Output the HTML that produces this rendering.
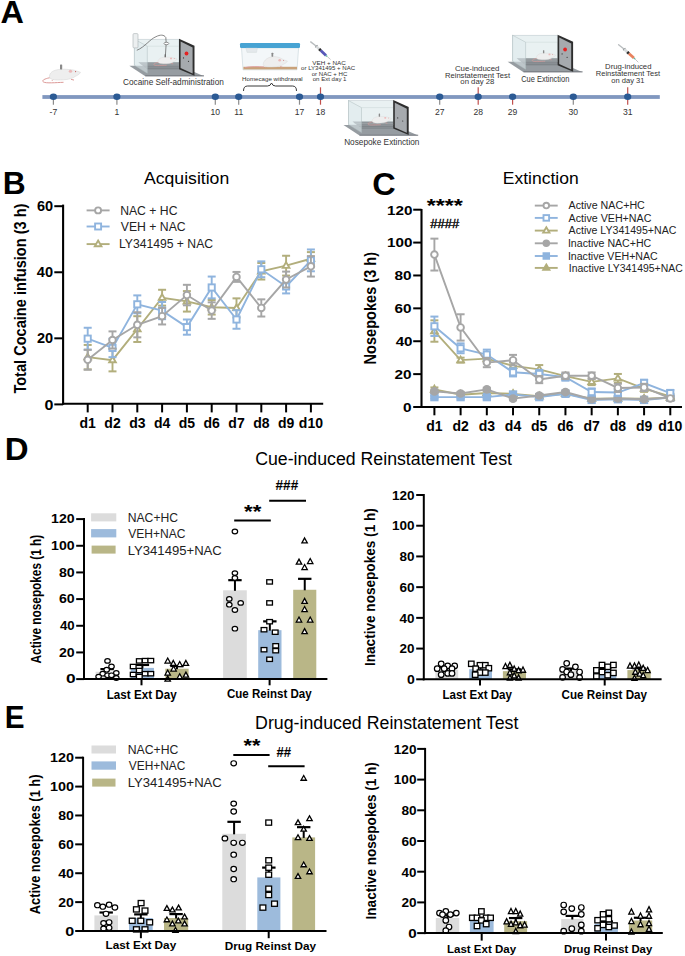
<!DOCTYPE html>
<html><head><meta charset="utf-8"><style>
html,body{margin:0;padding:0;background:#fff;}
svg{display:block;}
text{font-family:'Liberation Sans', sans-serif;}
</style></head><body>
<svg width="685" height="956" viewBox="0 0 685 956">
<rect width="685" height="956" fill="#fff"/>
<text x="12.15" y="22.80" font-size="31" text-anchor="middle" font-weight="bold" textLength="23.40" lengthAdjust="spacingAndGlyphs">A</text>
<text x="14.15" y="194.40" font-size="31" text-anchor="middle" font-weight="bold" textLength="22.91" lengthAdjust="spacingAndGlyphs">B</text>
<text x="383.90" y="194.60" font-size="31" text-anchor="middle" font-weight="bold" textLength="23.45" lengthAdjust="spacingAndGlyphs">C</text>
<text x="16.60" y="459.80" font-size="31" text-anchor="middle" font-weight="bold" textLength="23.83" lengthAdjust="spacingAndGlyphs">D</text>
<text x="14.65" y="728.40" font-size="31" text-anchor="middle" font-weight="bold" textLength="19.79" lengthAdjust="spacingAndGlyphs">E</text>
<rect x="42.4" y="95.1" width="617.4" height="3.8" fill="#8097bf"/>
<line x1="53.40" y1="97.00" x2="53.40" y2="104.70" stroke="#8c8c8c" stroke-width="1.2"/>
<ellipse cx="53.4" cy="96.8" rx="3.6" ry="3.2" fill="#2b5a94"/>
<text x="53.40" y="114.60" font-size="8.6" text-anchor="middle" fill="#333">-7</text>
<line x1="116.90" y1="97.00" x2="116.90" y2="104.70" stroke="#8c8c8c" stroke-width="1.2"/>
<ellipse cx="116.9" cy="96.8" rx="3.6" ry="3.2" fill="#2b5a94"/>
<text x="116.90" y="114.60" font-size="8.6" text-anchor="middle" fill="#333">1</text>
<line x1="215.30" y1="97.00" x2="215.30" y2="104.70" stroke="#8c8c8c" stroke-width="1.2"/>
<ellipse cx="215.3" cy="96.8" rx="3.6" ry="3.2" fill="#2b5a94"/>
<text x="215.30" y="114.60" font-size="8.6" text-anchor="middle" fill="#333">10</text>
<line x1="238.70" y1="97.00" x2="238.70" y2="104.70" stroke="#8c8c8c" stroke-width="1.2"/>
<ellipse cx="238.7" cy="96.8" rx="3.6" ry="3.2" fill="#2b5a94"/>
<text x="238.70" y="114.60" font-size="8.6" text-anchor="middle" fill="#333">11</text>
<line x1="299.50" y1="97.00" x2="299.50" y2="104.70" stroke="#8c8c8c" stroke-width="1.2"/>
<ellipse cx="299.5" cy="96.8" rx="3.6" ry="3.2" fill="#2b5a94"/>
<text x="299.50" y="114.60" font-size="8.6" text-anchor="middle" fill="#333">17</text>
<line x1="320.50" y1="87.30" x2="320.50" y2="104.70" stroke="#c0504d" stroke-width="1.2"/>
<ellipse cx="320.5" cy="96.8" rx="3.6" ry="3.2" fill="#2b5a94"/>
<text x="320.50" y="114.60" font-size="8.6" text-anchor="middle" fill="#333">18</text>
<line x1="439.70" y1="97.00" x2="439.70" y2="104.70" stroke="#8c8c8c" stroke-width="1.2"/>
<ellipse cx="439.7" cy="96.8" rx="3.6" ry="3.2" fill="#2b5a94"/>
<text x="439.70" y="114.60" font-size="8.6" text-anchor="middle" fill="#333">27</text>
<line x1="478.20" y1="87.30" x2="478.20" y2="104.70" stroke="#c0504d" stroke-width="1.2"/>
<ellipse cx="478.2" cy="96.8" rx="3.6" ry="3.2" fill="#2b5a94"/>
<text x="478.20" y="114.60" font-size="8.6" text-anchor="middle" fill="#333">28</text>
<line x1="512.60" y1="97.00" x2="512.60" y2="104.70" stroke="#c0504d" stroke-width="1.2"/>
<ellipse cx="512.6" cy="96.8" rx="3.6" ry="3.2" fill="#2b5a94"/>
<text x="512.60" y="114.60" font-size="8.6" text-anchor="middle" fill="#333">29</text>
<line x1="573.30" y1="97.00" x2="573.30" y2="104.70" stroke="#8c8c8c" stroke-width="1.2"/>
<ellipse cx="573.3" cy="96.8" rx="3.6" ry="3.2" fill="#2b5a94"/>
<text x="573.30" y="114.60" font-size="8.6" text-anchor="middle" fill="#333">30</text>
<line x1="627.70" y1="87.30" x2="627.70" y2="104.70" stroke="#c0504d" stroke-width="1.2"/>
<ellipse cx="627.7" cy="96.8" rx="3.6" ry="3.2" fill="#2b5a94"/>
<text x="627.70" y="114.60" font-size="8.6" text-anchor="middle" fill="#333">31</text>
<polygon points="129.3,65.7 180.0,65.7 204.0,76.2 145.3,76.2" fill="#969ca1"/>
<line x1="145.3" y1="75.8" x2="204.0" y2="75.8" stroke="#6f757a" stroke-width="0.9"/>
<rect x="134.3" y="39.2" width="44.7" height="26" fill="#e9f1f2" stroke="#b9c6c9" stroke-width="0.5"/>
<polygon points="138.3,62.2 179.0,62.2 179.0,69.2 147.3,69.2" fill="#6f767b" opacity="0.75"/>
<path d="M140.3,64.0 H179.0 M143.3,66.0 H179.0 M145.3,67.8 H179.0" stroke="#a9afb3" stroke-width="0.5"/>
<path d="M158.92,62.27 C155.20,62.89 152.72,64.13 154.27,65.06 C155.82,65.99 162.02,65.43 166.67,65.25" fill="none" stroke="#dd9a98" stroke-width="0.62"/>
<path d="M160.16,63.57 l-0.62,0.74 M171.32,63.39 l1.86,0.50" stroke="#dd9a98" stroke-width="0.62" fill="none"/>
<path d="M157.99,61.34 C158.30,58.24 162.02,57.12 166.98,57.12 C170.70,57.25 173.18,57.62 174.42,58.12 L177.21,59.05 C176.59,60.41 175.04,61.03 173.80,61.65 C171.94,63.20 168.22,63.82 163.26,63.82 C159.54,63.82 157.68,62.89 157.99,61.34 Z" fill="#eeeeee" stroke="#d3d3d3" stroke-width="0.31"/>
<ellipse cx="171.01" cy="58.43" rx="1.05" ry="0.93" fill="#ebb9b9"/>
<circle cx="174.17" cy="58.61" r="0.34" fill="#c04848"/>
<rect x="164.50" y="54.15" width="1.36" height="3.10" rx="0.37" fill="#8a8a8a"/>
<polygon points="134.3,39.2 147.3,46.2 147.3,73.2 134.3,65.2" fill="#dfeaec" fill-opacity="0.55" stroke="#aebcbf" stroke-width="0.5"/>
<line x1="147.3" y1="46.2" x2="179.0" y2="46.2" stroke="#c9d5d7" stroke-width="0.5"/>
<polygon points="179.0,38.7 194.5,45.7 194.5,75.7 179.0,69.2" fill="#2e2e2e"/>
<polygon points="180.6,41.400000000000006 192.6,47.400000000000006 192.6,73.4 180.6,68.0" fill="#a6aaae"/>
<circle cx="186.5" cy="53.5" r="1.9" fill="#e32222"/>
<circle cx="183.5" cy="57.92" r="0.6" fill="#333"/><circle cx="188.5" cy="61.3" r="0.6" fill="#333"/>
<rect x="133" y="33.6" width="5" height="14.3" rx="1" fill="#eceff0" stroke="#a9b0b3" stroke-width="0.6"/>
<path d="M136.8,50.3 C145,47 150,39 156,36.7 C160,34.6 164,34.4 165.8,37.5 L166.2,43 L165.3,57.2" fill="none" stroke="#555" stroke-width="0.7"/>
<ellipse cx="166.4" cy="43.5" rx="2.4" ry="1.2" fill="#fff" stroke="#555" stroke-width="0.6"/>
<text x="173.40" y="84.80" font-size="8.7" text-anchor="middle" fill="#333" textLength="100.83" lengthAdjust="spacingAndGlyphs">Cocaine Self-administration</text>
<polygon points="343.5,125.1 394.2,125.1 418.2,135.6 359.5,135.6" fill="#969ca1"/>
<line x1="359.5" y1="135.2" x2="418.2" y2="135.2" stroke="#6f757a" stroke-width="0.9"/>
<rect x="348.5" y="100.6" width="44.7" height="24" fill="#e9f1f2" stroke="#b9c6c9" stroke-width="0.5"/>
<polygon points="352.5,121.6 393.2,121.6 393.2,128.6 361.5,128.6" fill="#6f767b" opacity="0.75"/>
<path d="M354.5,123.39999999999999 H393.2 M357.5,125.39999999999999 H393.2 M359.5,127.19999999999999 H393.2" stroke="#a9afb3" stroke-width="0.5"/>
<path d="M373.12,121.67 C369.40,122.29 366.92,123.53 368.47,124.46 C370.02,125.39 376.22,124.83 380.87,124.65" fill="none" stroke="#dd9a98" stroke-width="0.62"/>
<path d="M374.36,122.97 l-0.62,0.74 M385.52,122.79 l1.86,0.50" stroke="#dd9a98" stroke-width="0.62" fill="none"/>
<path d="M372.19,120.74 C372.50,117.64 376.22,116.52 381.18,116.52 C384.90,116.65 387.38,117.02 388.62,117.52 L391.41,118.45 C390.79,119.81 389.24,120.43 388.00,121.05 C386.14,122.60 382.42,123.22 377.46,123.22 C373.74,123.22 371.88,122.29 372.19,120.74 Z" fill="#eeeeee" stroke="#d3d3d3" stroke-width="0.31"/>
<ellipse cx="385.21" cy="117.83" rx="1.05" ry="0.93" fill="#ebb9b9"/>
<circle cx="388.37" cy="118.01" r="0.34" fill="#c04848"/>
<rect x="378.70" y="113.55" width="1.36" height="3.10" rx="0.37" fill="#8a8a8a"/>
<polygon points="348.5,100.6 361.5,107.6 361.5,132.6 348.5,124.6" fill="#dfeaec" fill-opacity="0.55" stroke="#aebcbf" stroke-width="0.5"/>
<line x1="361.5" y1="107.6" x2="393.2" y2="107.6" stroke="#c9d5d7" stroke-width="0.5"/>
<polygon points="393.2,100.1 408.7,107.1 408.7,135.1 393.2,128.6" fill="#2e2e2e"/>
<polygon points="394.8,102.8 406.8,108.8 406.8,132.79999999999998 394.8,127.39999999999999" fill="#a6aaae"/>
<circle cx="397.7" cy="117.88" r="0.6" fill="#333"/><circle cx="402.7" cy="121.0" r="0.6" fill="#333"/>
<text x="381.80" y="144.90" font-size="8.7" text-anchor="middle" fill="#333" textLength="75.26" lengthAdjust="spacingAndGlyphs">Nosepoke Extinction</text>
<polygon points="507.6,61.7 558.6,61.7 582.6,72.2 523.6,72.2" fill="#969ca1"/>
<line x1="523.6" y1="71.8" x2="582.6" y2="71.8" stroke="#6f757a" stroke-width="0.9"/>
<rect x="512.6" y="35.2" width="45" height="26" fill="#e9f1f2" stroke="#b9c6c9" stroke-width="0.5"/>
<polygon points="516.6,58.2 557.6,58.2 557.6,65.2 525.6,65.2" fill="#6f767b" opacity="0.75"/>
<path d="M518.6,60.0 H557.6 M521.6,62.0 H557.6 M523.6,63.800000000000004 H557.6" stroke="#a9afb3" stroke-width="0.5"/>
<path d="M537.38,58.27 C533.66,58.89 531.18,60.13 532.73,61.06 C534.28,61.99 540.48,61.43 545.13,61.25" fill="none" stroke="#dd9a98" stroke-width="0.62"/>
<path d="M538.62,59.57 l-0.62,0.74 M549.78,59.39 l1.86,0.50" stroke="#dd9a98" stroke-width="0.62" fill="none"/>
<path d="M536.45,57.34 C536.76,54.24 540.48,53.12 545.44,53.12 C549.16,53.25 551.64,53.62 552.88,54.12 L555.67,55.05 C555.05,56.41 553.50,57.03 552.26,57.65 C550.40,59.20 546.68,59.82 541.72,59.82 C538.00,59.82 536.14,58.89 536.45,57.34 Z" fill="#eeeeee" stroke="#d3d3d3" stroke-width="0.31"/>
<ellipse cx="549.47" cy="54.43" rx="1.05" ry="0.93" fill="#ebb9b9"/>
<circle cx="552.63" cy="54.61" r="0.34" fill="#c04848"/>
<rect x="542.96" y="50.15" width="1.36" height="3.10" rx="0.37" fill="#8a8a8a"/>
<polygon points="512.6,35.2 525.6,42.2 525.6,69.2 512.6,61.2" fill="#dfeaec" fill-opacity="0.55" stroke="#aebcbf" stroke-width="0.5"/>
<line x1="525.6" y1="42.2" x2="557.6" y2="42.2" stroke="#c9d5d7" stroke-width="0.5"/>
<polygon points="557.6,34.7 573.1,41.7 573.1,71.7 557.6,65.2" fill="#2e2e2e"/>
<polygon points="559.2,37.400000000000006 571.2,43.400000000000006 571.2,69.4 559.2,64.0" fill="#a6aaae"/>
<circle cx="565.1" cy="49.5" r="1.9" fill="#e32222"/>
<circle cx="562.1" cy="53.92" r="0.6" fill="#333"/><circle cx="567.1" cy="57.3" r="0.6" fill="#333"/>
<text x="545.25" y="82.20" font-size="8.7" text-anchor="middle" fill="#333" textLength="48.06" lengthAdjust="spacingAndGlyphs">Cue Extinction</text>
<path d="M51.00,77.50 C45.00,78.50 41.00,80.50 43.50,82.00 C46.00,83.50 56.00,82.60 63.50,82.30" fill="none" stroke="#dd9a98" stroke-width="1.00"/>
<path d="M53.00,79.60 l-1.00,1.20 M71.00,79.30 l3.00,0.80" stroke="#dd9a98" stroke-width="1.00" fill="none"/>
<path d="M49.50,76.00 C50.00,71.00 56.00,69.20 64.00,69.20 C70.00,69.40 74.00,70.00 76.00,70.80 L80.50,72.30 C79.50,74.50 77.00,75.50 75.00,76.50 C72.00,79.00 66.00,80.00 58.00,80.00 C52.00,80.00 49.00,78.50 49.50,76.00 Z" fill="#eeeeee" stroke="#d3d3d3" stroke-width="0.50"/>
<ellipse cx="70.50" cy="71.30" rx="1.70" ry="1.50" fill="#ebb9b9"/>
<circle cx="75.60" cy="71.60" r="0.55" fill="#c04848"/>
<rect x="60.00" y="64.40" width="2.20" height="5.00" rx="0.60" fill="#8a8a8a"/>
<polygon points="241.5,47.9 298.6,47.9 297,69.8 243,69.8" fill="#f3f7f9" stroke="#c5d3d8" stroke-width="0.6"/>
<rect x="243.4" y="66.8" width="53.6" height="2.6" fill="#c9a27a"/>
<path d="M245,67.6 C250,66.3 258,66.5 264,67.0" fill="none" stroke="#dd9a98" stroke-width="0.9"/>
<rect x="240" y="43" width="60" height="4.9" rx="1.2" fill="#47a3d3"/>
<polygon points="246,48.2 257.4,48.2 256.5,52.4 247,52.4" fill="#e4e9ec" stroke="#cfd6d9" stroke-width="0.4"/>
<path d="M266.03,66.77 l-0.78,0.94 M280.07,66.53 l2.34,0.62" stroke="#dd9a98" stroke-width="0.78" fill="none"/>
<path d="M263.30,63.96 C263.69,60.06 268.37,56.55 274.61,56.55 C279.29,56.71 282.41,59.28 283.97,59.90 L287.48,61.07 C286.70,62.79 284.75,63.57 283.19,64.35 C280.85,66.30 276.17,67.08 269.93,67.08 C265.25,67.08 262.91,65.91 263.30,63.96 Z" fill="#eeeeee" stroke="#d3d3d3" stroke-width="0.39"/>
<ellipse cx="279.68" cy="60.29" rx="1.33" ry="1.17" fill="#ebb9b9"/>
<circle cx="283.66" cy="60.53" r="0.43" fill="#c04848"/>
<rect x="271.49" y="52.81" width="1.72" height="3.90" rx="0.47" fill="#8a8a8a"/>
<text x="272.40" y="80.70" font-size="5.9" text-anchor="middle" fill="#333" textLength="60.56" lengthAdjust="spacingAndGlyphs">Homecage withdrawal</text>
<path d="M243.5,91 q0,-5 4,-5 h20 q3,0 4,-3 q1,3 4,3 h17 q4,0 4,5" fill="none" stroke="#222" stroke-width="0.9"/>
<line x1="310.7" y1="41.9" x2="316.4" y2="46.3" stroke="#b9bdbf" stroke-width="1.4" stroke-linecap="round"/>
<line x1="315.2" y1="47.4" x2="317.6" y2="45.2" stroke="#8e9396" stroke-width="1.2"/>
<line x1="316.4" y1="46.3" x2="319.9" y2="49.8" stroke="#d7dadb" stroke-width="2.6"/>
<line x1="319.2" y1="49.1" x2="320.8" y2="50.6" stroke="#2c2c2c" stroke-width="2.8"/>
<line x1="320.8" y1="50.6" x2="326" y2="55.5" stroke="#5757b8" stroke-width="2.8"/>
<line x1="326" y1="55.5" x2="327.2" y2="56.5" stroke="#5fb8a0" stroke-width="1.6"/>
<line x1="327.2" y1="56.5" x2="330.6" y2="59.5" stroke="#888" stroke-width="0.5"/>
<text x="329.00" y="64.70" font-size="5.9" text-anchor="middle" fill="#333" textLength="33.48" lengthAdjust="spacingAndGlyphs">VEH + NAC</text>
<text x="328.10" y="70.30" font-size="5.9" text-anchor="middle" fill="#333" textLength="54.05" lengthAdjust="spacingAndGlyphs">or LY341495 + NAC</text>
<text x="329.50" y="75.60" font-size="5.9" text-anchor="middle" fill="#333" textLength="35.56" lengthAdjust="spacingAndGlyphs">or NAC + HC</text>
<text x="329.60" y="81.40" font-size="5.9" text-anchor="middle" fill="#333" textLength="33.84" lengthAdjust="spacingAndGlyphs">on Ext day 1</text>
<line x1="618.6" y1="44.8" x2="624.3" y2="49.2" stroke="#b9bdbf" stroke-width="1.4" stroke-linecap="round"/>
<line x1="623.1" y1="50.3" x2="625.5" y2="48.1" stroke="#8e9396" stroke-width="1.2"/>
<line x1="624.3" y1="49.2" x2="628" y2="52.7" stroke="#d7dadb" stroke-width="2.6"/>
<line x1="627.3" y1="52" x2="628.9" y2="53.5" stroke="#2c2c2c" stroke-width="2.8"/>
<line x1="628.9" y1="53.5" x2="633.9" y2="58" stroke="#e8825e" stroke-width="2.8"/>
<line x1="633.9" y1="58" x2="635" y2="59" stroke="#5fb8a0" stroke-width="1.6"/>
<line x1="635" y1="59" x2="638.3" y2="62.3" stroke="#888" stroke-width="0.5"/>
<text x="477.20" y="71.00" font-size="7.0" text-anchor="middle" fill="#333" textLength="44.54" lengthAdjust="spacingAndGlyphs">Cue-induced</text>
<text x="477.50" y="77.70" font-size="7.0" text-anchor="middle" fill="#333" textLength="65.08" lengthAdjust="spacingAndGlyphs">Reinstatement Test</text>
<text x="477.40" y="84.30" font-size="7.0" text-anchor="middle" fill="#333" textLength="34.12" lengthAdjust="spacingAndGlyphs">on day 28</text>
<text x="628.30" y="69.00" font-size="7.0" text-anchor="middle" fill="#333" textLength="46.36" lengthAdjust="spacingAndGlyphs">Drug-induced</text>
<text x="627.90" y="75.90" font-size="7.0" text-anchor="middle" fill="#333" textLength="64.22" lengthAdjust="spacingAndGlyphs">Reinstatement Test</text>
<text x="627.90" y="82.80" font-size="7.0" text-anchor="middle" fill="#333" textLength="33.13" lengthAdjust="spacingAndGlyphs">on day 31</text>
<line x1="62.00" y1="403.80" x2="323.20" y2="403.80" stroke="#000" stroke-width="2"/>
<line x1="87.70" y1="403.80" x2="87.70" y2="412.40" stroke="#000" stroke-width="2"/>
<text x="87.70" y="427.50" font-size="14" text-anchor="middle" font-weight="bold">d1</text>
<line x1="112.50" y1="403.80" x2="112.50" y2="412.40" stroke="#000" stroke-width="2"/>
<text x="112.50" y="427.50" font-size="14" text-anchor="middle" font-weight="bold">d2</text>
<line x1="137.30" y1="403.80" x2="137.30" y2="412.40" stroke="#000" stroke-width="2"/>
<text x="137.30" y="427.50" font-size="14" text-anchor="middle" font-weight="bold">d3</text>
<line x1="162.10" y1="403.80" x2="162.10" y2="412.40" stroke="#000" stroke-width="2"/>
<text x="162.10" y="427.50" font-size="14" text-anchor="middle" font-weight="bold">d4</text>
<line x1="186.90" y1="403.80" x2="186.90" y2="412.40" stroke="#000" stroke-width="2"/>
<text x="186.90" y="427.50" font-size="14" text-anchor="middle" font-weight="bold">d5</text>
<line x1="211.70" y1="403.80" x2="211.70" y2="412.40" stroke="#000" stroke-width="2"/>
<text x="211.70" y="427.50" font-size="14" text-anchor="middle" font-weight="bold">d6</text>
<line x1="236.50" y1="403.80" x2="236.50" y2="412.40" stroke="#000" stroke-width="2"/>
<text x="236.50" y="427.50" font-size="14" text-anchor="middle" font-weight="bold">d7</text>
<line x1="261.30" y1="403.80" x2="261.30" y2="412.40" stroke="#000" stroke-width="2"/>
<text x="261.30" y="427.50" font-size="14" text-anchor="middle" font-weight="bold">d8</text>
<line x1="286.10" y1="403.80" x2="286.10" y2="412.40" stroke="#000" stroke-width="2"/>
<text x="286.10" y="427.50" font-size="14" text-anchor="middle" font-weight="bold">d9</text>
<line x1="310.90" y1="403.80" x2="310.90" y2="412.40" stroke="#000" stroke-width="2"/>
<text x="310.90" y="427.50" font-size="14" text-anchor="middle" font-weight="bold">d10</text>
<line x1="63.10" y1="204.60" x2="63.10" y2="404.80" stroke="#000" stroke-width="2.1"/>
<line x1="54.30" y1="404.40" x2="63.10" y2="404.40" stroke="#000" stroke-width="2"/>
<text x="49.00" y="409.51" font-size="14.4" text-anchor="middle" font-weight="bold" textLength="8.92" lengthAdjust="spacingAndGlyphs">0</text>
<line x1="54.30" y1="338.33" x2="63.10" y2="338.33" stroke="#000" stroke-width="2"/>
<text x="45.00" y="343.45" font-size="14.4" text-anchor="middle" font-weight="bold" textLength="16.17" lengthAdjust="spacingAndGlyphs">20</text>
<line x1="54.30" y1="272.27" x2="63.10" y2="272.27" stroke="#000" stroke-width="2"/>
<text x="45.00" y="277.38" font-size="14.4" text-anchor="middle" font-weight="bold" textLength="16.24" lengthAdjust="spacingAndGlyphs">40</text>
<line x1="54.30" y1="206.20" x2="63.10" y2="206.20" stroke="#000" stroke-width="2"/>
<text x="45.00" y="211.31" font-size="14.4" text-anchor="middle" font-weight="bold" textLength="16.17" lengthAdjust="spacingAndGlyphs">60</text>
<text x="26.20" y="298.60" font-size="15.6" text-anchor="middle" font-weight="bold" textLength="190.04" lengthAdjust="spacingAndGlyphs" transform="rotate(-90 26.20 298.60)">Total Cocaine infusion (3 h)</text>
<text x="186.60" y="183.60" font-size="17.3" text-anchor="middle" textLength="85.23" lengthAdjust="spacingAndGlyphs">Acquisition</text>
<polyline points="87.70,357.16 112.50,360.14 137.30,329.08 162.10,297.70 186.90,301.34 211.70,307.28 236.50,307.94 261.30,271.28 286.10,265.66 310.90,258.72" fill="none" stroke="#b2ae7c" stroke-width="1.9"/>
<line x1="87.70" y1="344.94" x2="87.70" y2="369.38" stroke="#b2ae7c" stroke-width="1.9"/>
<line x1="83.70" y1="344.94" x2="91.70" y2="344.94" stroke="#b2ae7c" stroke-width="2.0"/>
<line x1="83.70" y1="369.38" x2="91.70" y2="369.38" stroke="#b2ae7c" stroke-width="2.0"/>
<line x1="112.50" y1="348.90" x2="112.50" y2="371.37" stroke="#b2ae7c" stroke-width="1.9"/>
<line x1="108.50" y1="348.90" x2="116.50" y2="348.90" stroke="#b2ae7c" stroke-width="2.0"/>
<line x1="108.50" y1="371.37" x2="116.50" y2="371.37" stroke="#b2ae7c" stroke-width="2.0"/>
<line x1="137.30" y1="316.20" x2="137.30" y2="341.97" stroke="#b2ae7c" stroke-width="1.9"/>
<line x1="133.30" y1="316.20" x2="141.30" y2="316.20" stroke="#b2ae7c" stroke-width="2.0"/>
<line x1="133.30" y1="341.97" x2="141.30" y2="341.97" stroke="#b2ae7c" stroke-width="2.0"/>
<line x1="162.10" y1="289.77" x2="162.10" y2="305.63" stroke="#b2ae7c" stroke-width="1.9"/>
<line x1="158.10" y1="289.77" x2="166.10" y2="289.77" stroke="#b2ae7c" stroke-width="2.0"/>
<line x1="158.10" y1="305.63" x2="166.10" y2="305.63" stroke="#b2ae7c" stroke-width="2.0"/>
<line x1="186.90" y1="291.10" x2="186.90" y2="311.58" stroke="#b2ae7c" stroke-width="1.9"/>
<line x1="182.90" y1="291.10" x2="190.90" y2="291.10" stroke="#b2ae7c" stroke-width="2.0"/>
<line x1="182.90" y1="311.58" x2="190.90" y2="311.58" stroke="#b2ae7c" stroke-width="2.0"/>
<line x1="211.70" y1="300.01" x2="211.70" y2="314.55" stroke="#b2ae7c" stroke-width="1.9"/>
<line x1="207.70" y1="300.01" x2="215.70" y2="300.01" stroke="#b2ae7c" stroke-width="2.0"/>
<line x1="207.70" y1="314.55" x2="215.70" y2="314.55" stroke="#b2ae7c" stroke-width="2.0"/>
<line x1="236.50" y1="298.36" x2="236.50" y2="317.52" stroke="#b2ae7c" stroke-width="1.9"/>
<line x1="232.50" y1="298.36" x2="240.50" y2="298.36" stroke="#b2ae7c" stroke-width="2.0"/>
<line x1="232.50" y1="317.52" x2="240.50" y2="317.52" stroke="#b2ae7c" stroke-width="2.0"/>
<line x1="261.30" y1="263.02" x2="261.30" y2="279.53" stroke="#b2ae7c" stroke-width="1.9"/>
<line x1="257.30" y1="263.02" x2="265.30" y2="263.02" stroke="#b2ae7c" stroke-width="2.0"/>
<line x1="257.30" y1="279.53" x2="265.30" y2="279.53" stroke="#b2ae7c" stroke-width="2.0"/>
<line x1="286.10" y1="255.75" x2="286.10" y2="275.57" stroke="#b2ae7c" stroke-width="1.9"/>
<line x1="282.10" y1="255.75" x2="290.10" y2="255.75" stroke="#b2ae7c" stroke-width="2.0"/>
<line x1="282.10" y1="275.57" x2="290.10" y2="275.57" stroke="#b2ae7c" stroke-width="2.0"/>
<line x1="310.90" y1="252.12" x2="310.90" y2="265.33" stroke="#b2ae7c" stroke-width="1.9"/>
<line x1="306.90" y1="252.12" x2="314.90" y2="252.12" stroke="#b2ae7c" stroke-width="2.0"/>
<line x1="306.90" y1="265.33" x2="314.90" y2="265.33" stroke="#b2ae7c" stroke-width="2.0"/>
<polygon points="87.70,353.63 91.00,359.33 84.40,359.33" fill="#fff" stroke="#b2ae7c" stroke-width="1.9"/>
<polygon points="112.50,356.60 115.80,362.30 109.20,362.30" fill="#fff" stroke="#b2ae7c" stroke-width="1.9"/>
<polygon points="137.30,325.55 140.60,331.25 134.00,331.25" fill="#fff" stroke="#b2ae7c" stroke-width="1.9"/>
<polygon points="162.10,294.17 165.40,299.87 158.80,299.87" fill="#fff" stroke="#b2ae7c" stroke-width="1.9"/>
<polygon points="186.90,297.80 190.20,303.50 183.60,303.50" fill="#fff" stroke="#b2ae7c" stroke-width="1.9"/>
<polygon points="211.70,303.75 215.00,309.45 208.40,309.45" fill="#fff" stroke="#b2ae7c" stroke-width="1.9"/>
<polygon points="236.50,304.41 239.80,310.11 233.20,310.11" fill="#fff" stroke="#b2ae7c" stroke-width="1.9"/>
<polygon points="261.30,267.74 264.60,273.44 258.00,273.44" fill="#fff" stroke="#b2ae7c" stroke-width="1.9"/>
<polygon points="286.10,262.13 289.40,267.83 282.80,267.83" fill="#fff" stroke="#b2ae7c" stroke-width="1.9"/>
<polygon points="310.90,255.19 314.20,260.89 307.60,260.89" fill="#fff" stroke="#b2ae7c" stroke-width="1.9"/>
<polyline points="87.70,338.66 112.50,347.91 137.30,304.31 162.10,310.59 186.90,327.10 211.70,287.46 236.50,319.50 261.30,269.29 286.10,286.47 310.90,260.37" fill="none" stroke="#8fb4de" stroke-width="1.9"/>
<line x1="87.70" y1="327.76" x2="87.70" y2="349.56" stroke="#8fb4de" stroke-width="1.9"/>
<line x1="83.70" y1="327.76" x2="91.70" y2="327.76" stroke="#8fb4de" stroke-width="2.0"/>
<line x1="83.70" y1="349.56" x2="91.70" y2="349.56" stroke="#8fb4de" stroke-width="2.0"/>
<line x1="112.50" y1="338.66" x2="112.50" y2="357.16" stroke="#8fb4de" stroke-width="1.9"/>
<line x1="108.50" y1="338.66" x2="116.50" y2="338.66" stroke="#8fb4de" stroke-width="2.0"/>
<line x1="108.50" y1="357.16" x2="116.50" y2="357.16" stroke="#8fb4de" stroke-width="2.0"/>
<line x1="137.30" y1="295.39" x2="137.30" y2="313.23" stroke="#8fb4de" stroke-width="1.9"/>
<line x1="133.30" y1="295.39" x2="141.30" y2="295.39" stroke="#8fb4de" stroke-width="2.0"/>
<line x1="133.30" y1="313.23" x2="141.30" y2="313.23" stroke="#8fb4de" stroke-width="2.0"/>
<line x1="162.10" y1="302.00" x2="162.10" y2="319.17" stroke="#8fb4de" stroke-width="1.9"/>
<line x1="158.10" y1="302.00" x2="166.10" y2="302.00" stroke="#8fb4de" stroke-width="2.0"/>
<line x1="158.10" y1="319.17" x2="166.10" y2="319.17" stroke="#8fb4de" stroke-width="2.0"/>
<line x1="186.90" y1="319.50" x2="186.90" y2="334.70" stroke="#8fb4de" stroke-width="1.9"/>
<line x1="182.90" y1="319.50" x2="190.90" y2="319.50" stroke="#8fb4de" stroke-width="2.0"/>
<line x1="182.90" y1="334.70" x2="190.90" y2="334.70" stroke="#8fb4de" stroke-width="2.0"/>
<line x1="211.70" y1="276.56" x2="211.70" y2="298.36" stroke="#8fb4de" stroke-width="1.9"/>
<line x1="207.70" y1="276.56" x2="215.70" y2="276.56" stroke="#8fb4de" stroke-width="2.0"/>
<line x1="207.70" y1="298.36" x2="215.70" y2="298.36" stroke="#8fb4de" stroke-width="2.0"/>
<line x1="236.50" y1="310.25" x2="236.50" y2="328.75" stroke="#8fb4de" stroke-width="1.9"/>
<line x1="232.50" y1="310.25" x2="240.50" y2="310.25" stroke="#8fb4de" stroke-width="2.0"/>
<line x1="232.50" y1="328.75" x2="240.50" y2="328.75" stroke="#8fb4de" stroke-width="2.0"/>
<line x1="261.30" y1="261.37" x2="261.30" y2="277.22" stroke="#8fb4de" stroke-width="1.9"/>
<line x1="257.30" y1="261.37" x2="265.30" y2="261.37" stroke="#8fb4de" stroke-width="2.0"/>
<line x1="257.30" y1="277.22" x2="265.30" y2="277.22" stroke="#8fb4de" stroke-width="2.0"/>
<line x1="286.10" y1="279.53" x2="286.10" y2="293.41" stroke="#8fb4de" stroke-width="1.9"/>
<line x1="282.10" y1="279.53" x2="290.10" y2="279.53" stroke="#8fb4de" stroke-width="2.0"/>
<line x1="282.10" y1="293.41" x2="290.10" y2="293.41" stroke="#8fb4de" stroke-width="2.0"/>
<line x1="310.90" y1="249.47" x2="310.90" y2="271.28" stroke="#8fb4de" stroke-width="1.9"/>
<line x1="306.90" y1="249.47" x2="314.90" y2="249.47" stroke="#8fb4de" stroke-width="2.0"/>
<line x1="306.90" y1="271.28" x2="314.90" y2="271.28" stroke="#8fb4de" stroke-width="2.0"/>
<rect x="84.60" y="335.56" width="6.2" height="6.2" fill="#fff" stroke="#8fb4de" stroke-width="1.9"/>
<rect x="109.40" y="344.81" width="6.2" height="6.2" fill="#fff" stroke="#8fb4de" stroke-width="1.9"/>
<rect x="134.20" y="301.21" width="6.2" height="6.2" fill="#fff" stroke="#8fb4de" stroke-width="1.9"/>
<rect x="159.00" y="307.49" width="6.2" height="6.2" fill="#fff" stroke="#8fb4de" stroke-width="1.9"/>
<rect x="183.80" y="324.00" width="6.2" height="6.2" fill="#fff" stroke="#8fb4de" stroke-width="1.9"/>
<rect x="208.60" y="284.36" width="6.2" height="6.2" fill="#fff" stroke="#8fb4de" stroke-width="1.9"/>
<rect x="233.40" y="316.40" width="6.2" height="6.2" fill="#fff" stroke="#8fb4de" stroke-width="1.9"/>
<rect x="258.20" y="266.19" width="6.2" height="6.2" fill="#fff" stroke="#8fb4de" stroke-width="1.9"/>
<rect x="283.00" y="283.37" width="6.2" height="6.2" fill="#fff" stroke="#8fb4de" stroke-width="1.9"/>
<rect x="307.80" y="257.27" width="6.2" height="6.2" fill="#fff" stroke="#8fb4de" stroke-width="1.9"/>
<polyline points="87.70,359.81 112.50,339.99 137.30,324.79 162.10,316.20 186.90,295.06 211.70,310.59 236.50,276.89 261.30,307.94 286.10,279.53 310.90,266.32" fill="none" stroke="#a6a6a6" stroke-width="1.9"/>
<line x1="87.70" y1="349.90" x2="87.70" y2="369.72" stroke="#a6a6a6" stroke-width="1.9"/>
<line x1="83.70" y1="349.90" x2="91.70" y2="349.90" stroke="#a6a6a6" stroke-width="2.0"/>
<line x1="83.70" y1="369.72" x2="91.70" y2="369.72" stroke="#a6a6a6" stroke-width="2.0"/>
<line x1="112.50" y1="331.40" x2="112.50" y2="348.57" stroke="#a6a6a6" stroke-width="1.9"/>
<line x1="108.50" y1="331.40" x2="116.50" y2="331.40" stroke="#a6a6a6" stroke-width="2.0"/>
<line x1="108.50" y1="348.57" x2="116.50" y2="348.57" stroke="#a6a6a6" stroke-width="2.0"/>
<line x1="137.30" y1="312.24" x2="137.30" y2="337.34" stroke="#a6a6a6" stroke-width="1.9"/>
<line x1="133.30" y1="312.24" x2="141.30" y2="312.24" stroke="#a6a6a6" stroke-width="2.0"/>
<line x1="133.30" y1="337.34" x2="141.30" y2="337.34" stroke="#a6a6a6" stroke-width="2.0"/>
<line x1="162.10" y1="307.94" x2="162.10" y2="324.46" stroke="#a6a6a6" stroke-width="1.9"/>
<line x1="158.10" y1="307.94" x2="166.10" y2="307.94" stroke="#a6a6a6" stroke-width="2.0"/>
<line x1="158.10" y1="324.46" x2="166.10" y2="324.46" stroke="#a6a6a6" stroke-width="2.0"/>
<line x1="186.90" y1="284.82" x2="186.90" y2="305.30" stroke="#a6a6a6" stroke-width="1.9"/>
<line x1="182.90" y1="284.82" x2="190.90" y2="284.82" stroke="#a6a6a6" stroke-width="2.0"/>
<line x1="182.90" y1="305.30" x2="190.90" y2="305.30" stroke="#a6a6a6" stroke-width="2.0"/>
<line x1="211.70" y1="302.33" x2="211.70" y2="318.84" stroke="#a6a6a6" stroke-width="1.9"/>
<line x1="207.70" y1="302.33" x2="215.70" y2="302.33" stroke="#a6a6a6" stroke-width="2.0"/>
<line x1="207.70" y1="318.84" x2="215.70" y2="318.84" stroke="#a6a6a6" stroke-width="2.0"/>
<line x1="236.50" y1="271.94" x2="236.50" y2="281.85" stroke="#a6a6a6" stroke-width="1.9"/>
<line x1="232.50" y1="271.94" x2="240.50" y2="271.94" stroke="#a6a6a6" stroke-width="2.0"/>
<line x1="232.50" y1="281.85" x2="240.50" y2="281.85" stroke="#a6a6a6" stroke-width="2.0"/>
<line x1="261.30" y1="299.35" x2="261.30" y2="316.53" stroke="#a6a6a6" stroke-width="1.9"/>
<line x1="257.30" y1="299.35" x2="265.30" y2="299.35" stroke="#a6a6a6" stroke-width="2.0"/>
<line x1="257.30" y1="316.53" x2="265.30" y2="316.53" stroke="#a6a6a6" stroke-width="2.0"/>
<line x1="286.10" y1="271.61" x2="286.10" y2="287.46" stroke="#a6a6a6" stroke-width="1.9"/>
<line x1="282.10" y1="271.61" x2="290.10" y2="271.61" stroke="#a6a6a6" stroke-width="2.0"/>
<line x1="282.10" y1="287.46" x2="290.10" y2="287.46" stroke="#a6a6a6" stroke-width="2.0"/>
<line x1="310.90" y1="256.08" x2="310.90" y2="276.56" stroke="#a6a6a6" stroke-width="1.9"/>
<line x1="306.90" y1="256.08" x2="314.90" y2="256.08" stroke="#a6a6a6" stroke-width="2.0"/>
<line x1="306.90" y1="276.56" x2="314.90" y2="276.56" stroke="#a6a6a6" stroke-width="2.0"/>
<circle cx="87.70" cy="359.81" r="3.3" fill="#fff" stroke="#a6a6a6" stroke-width="1.9"/>
<circle cx="112.50" cy="339.99" r="3.3" fill="#fff" stroke="#a6a6a6" stroke-width="1.9"/>
<circle cx="137.30" cy="324.79" r="3.3" fill="#fff" stroke="#a6a6a6" stroke-width="1.9"/>
<circle cx="162.10" cy="316.20" r="3.3" fill="#fff" stroke="#a6a6a6" stroke-width="1.9"/>
<circle cx="186.90" cy="295.06" r="3.3" fill="#fff" stroke="#a6a6a6" stroke-width="1.9"/>
<circle cx="211.70" cy="310.59" r="3.3" fill="#fff" stroke="#a6a6a6" stroke-width="1.9"/>
<circle cx="236.50" cy="276.89" r="3.3" fill="#fff" stroke="#a6a6a6" stroke-width="1.9"/>
<circle cx="261.30" cy="307.94" r="3.3" fill="#fff" stroke="#a6a6a6" stroke-width="1.9"/>
<circle cx="286.10" cy="279.53" r="3.3" fill="#fff" stroke="#a6a6a6" stroke-width="1.9"/>
<circle cx="310.90" cy="266.32" r="3.3" fill="#fff" stroke="#a6a6a6" stroke-width="1.9"/>
<line x1="86.60" y1="210.40" x2="109.60" y2="210.40" stroke="#a6a6a6" stroke-width="1.9"/>
<circle cx="98.10" cy="210.40" r="3.0" fill="#fff" stroke="#a6a6a6" stroke-width="1.9"/>
<text x="148.80" y="214.60" font-size="12" text-anchor="middle" fill="#222" textLength="57.30" lengthAdjust="spacingAndGlyphs">NAC + HC</text>
<line x1="86.60" y1="226.50" x2="109.60" y2="226.50" stroke="#8fb4de" stroke-width="1.9"/>
<rect x="95.10" y="223.50" width="6.0" height="6.0" fill="#fff" stroke="#8fb4de" stroke-width="1.9"/>
<text x="153.20" y="230.70" font-size="12" text-anchor="middle" fill="#222" textLength="64.87" lengthAdjust="spacingAndGlyphs">VEH + NAC</text>
<line x1="86.60" y1="244.10" x2="109.60" y2="244.10" stroke="#b2ae7c" stroke-width="1.9"/>
<polygon points="98.10,240.57 101.40,246.27 94.80,246.27" fill="#fff" stroke="#b2ae7c" stroke-width="1.9"/>
<text x="166.00" y="248.30" font-size="12" text-anchor="middle" fill="#222" textLength="94.07" lengthAdjust="spacingAndGlyphs">LY341495 + NAC</text>
<line x1="420.50" y1="407.00" x2="682.00" y2="407.00" stroke="#000" stroke-width="2"/>
<line x1="434.40" y1="407.00" x2="434.40" y2="415.30" stroke="#000" stroke-width="2"/>
<text x="434.40" y="430.50" font-size="14" text-anchor="middle" font-weight="bold">d1</text>
<line x1="460.61" y1="407.00" x2="460.61" y2="415.30" stroke="#000" stroke-width="2"/>
<text x="460.61" y="430.50" font-size="14" text-anchor="middle" font-weight="bold">d2</text>
<line x1="486.82" y1="407.00" x2="486.82" y2="415.30" stroke="#000" stroke-width="2"/>
<text x="486.82" y="430.50" font-size="14" text-anchor="middle" font-weight="bold">d3</text>
<line x1="513.03" y1="407.00" x2="513.03" y2="415.30" stroke="#000" stroke-width="2"/>
<text x="513.03" y="430.50" font-size="14" text-anchor="middle" font-weight="bold">d4</text>
<line x1="539.24" y1="407.00" x2="539.24" y2="415.30" stroke="#000" stroke-width="2"/>
<text x="539.24" y="430.50" font-size="14" text-anchor="middle" font-weight="bold">d5</text>
<line x1="565.45" y1="407.00" x2="565.45" y2="415.30" stroke="#000" stroke-width="2"/>
<text x="565.45" y="430.50" font-size="14" text-anchor="middle" font-weight="bold">d6</text>
<line x1="591.66" y1="407.00" x2="591.66" y2="415.30" stroke="#000" stroke-width="2"/>
<text x="591.66" y="430.50" font-size="14" text-anchor="middle" font-weight="bold">d7</text>
<line x1="617.87" y1="407.00" x2="617.87" y2="415.30" stroke="#000" stroke-width="2"/>
<text x="617.87" y="430.50" font-size="14" text-anchor="middle" font-weight="bold">d8</text>
<line x1="644.08" y1="407.00" x2="644.08" y2="415.30" stroke="#000" stroke-width="2"/>
<text x="644.08" y="430.50" font-size="14" text-anchor="middle" font-weight="bold">d9</text>
<line x1="670.29" y1="407.00" x2="670.29" y2="415.30" stroke="#000" stroke-width="2"/>
<text x="670.29" y="430.50" font-size="14" text-anchor="middle" font-weight="bold">d10</text>
<line x1="421.50" y1="209.00" x2="421.50" y2="408.00" stroke="#000" stroke-width="2.1"/>
<line x1="413.20" y1="407.00" x2="421.50" y2="407.00" stroke="#000" stroke-width="2"/>
<text x="407.40" y="411.83" font-size="13.6" text-anchor="middle" font-weight="bold" textLength="8.54" lengthAdjust="spacingAndGlyphs">0</text>
<line x1="413.20" y1="374.12" x2="421.50" y2="374.12" stroke="#000" stroke-width="2"/>
<text x="403.05" y="378.94" font-size="13.6" text-anchor="middle" font-weight="bold" textLength="17.06" lengthAdjust="spacingAndGlyphs">20</text>
<line x1="413.20" y1="341.23" x2="421.50" y2="341.23" stroke="#000" stroke-width="2"/>
<text x="404.05" y="346.06" font-size="13.6" text-anchor="middle" font-weight="bold" textLength="16.85" lengthAdjust="spacingAndGlyphs">40</text>
<line x1="413.20" y1="308.35" x2="421.50" y2="308.35" stroke="#000" stroke-width="2"/>
<text x="403.05" y="313.18" font-size="13.6" text-anchor="middle" font-weight="bold" textLength="17.06" lengthAdjust="spacingAndGlyphs">60</text>
<line x1="413.20" y1="275.47" x2="421.50" y2="275.47" stroke="#000" stroke-width="2"/>
<text x="403.05" y="280.29" font-size="13.6" text-anchor="middle" font-weight="bold" textLength="17.06" lengthAdjust="spacingAndGlyphs">80</text>
<line x1="413.20" y1="242.58" x2="421.50" y2="242.58" stroke="#000" stroke-width="2"/>
<text x="399.75" y="247.41" font-size="13.6" text-anchor="middle" font-weight="bold" textLength="25.41" lengthAdjust="spacingAndGlyphs">100</text>
<line x1="413.20" y1="209.70" x2="421.50" y2="209.70" stroke="#000" stroke-width="2"/>
<text x="399.75" y="214.53" font-size="13.6" text-anchor="middle" font-weight="bold" textLength="25.41" lengthAdjust="spacingAndGlyphs">120</text>
<text x="376.10" y="308.20" font-size="15.7" text-anchor="middle" font-weight="bold" textLength="112.45" lengthAdjust="spacingAndGlyphs" transform="rotate(-90 376.10 308.20)">Nosepokes (3 h)</text>
<text x="540.75" y="183.60" font-size="17.3" text-anchor="middle" textLength="75.90" lengthAdjust="spacingAndGlyphs">Extinction</text>
<text x="444.80" y="212.00" font-size="19" text-anchor="middle" font-weight="bold" textLength="36.24" lengthAdjust="spacingAndGlyphs">****</text>
<text x="444.75" y="227.60" font-size="12" text-anchor="middle" textLength="28.81" lengthAdjust="spacingAndGlyphs" stroke="#000" stroke-width="0.35">####</text>
<polyline points="434.40,389.41 460.61,394.67 486.82,393.02 513.03,393.85 539.24,396.31 565.45,393.85 591.66,398.78 617.87,398.45 644.08,398.78 670.29,397.63" fill="none" stroke="#b2ae7c" stroke-width="1.9"/>
<line x1="434.40" y1="387.43" x2="434.40" y2="391.38" stroke="#b2ae7c" stroke-width="1.9"/>
<line x1="430.40" y1="387.43" x2="438.40" y2="387.43" stroke="#b2ae7c" stroke-width="2.0"/>
<line x1="430.40" y1="391.38" x2="438.40" y2="391.38" stroke="#b2ae7c" stroke-width="2.0"/>
<line x1="460.61" y1="392.70" x2="460.61" y2="396.64" stroke="#b2ae7c" stroke-width="1.9"/>
<line x1="456.61" y1="392.70" x2="464.61" y2="392.70" stroke="#b2ae7c" stroke-width="2.0"/>
<line x1="456.61" y1="396.64" x2="464.61" y2="396.64" stroke="#b2ae7c" stroke-width="2.0"/>
<line x1="486.82" y1="391.05" x2="486.82" y2="395.00" stroke="#b2ae7c" stroke-width="1.9"/>
<line x1="482.82" y1="391.05" x2="490.82" y2="391.05" stroke="#b2ae7c" stroke-width="2.0"/>
<line x1="482.82" y1="395.00" x2="490.82" y2="395.00" stroke="#b2ae7c" stroke-width="2.0"/>
<line x1="513.03" y1="391.87" x2="513.03" y2="395.82" stroke="#b2ae7c" stroke-width="1.9"/>
<line x1="509.03" y1="391.87" x2="517.03" y2="391.87" stroke="#b2ae7c" stroke-width="2.0"/>
<line x1="509.03" y1="395.82" x2="517.03" y2="395.82" stroke="#b2ae7c" stroke-width="2.0"/>
<line x1="539.24" y1="394.34" x2="539.24" y2="398.29" stroke="#b2ae7c" stroke-width="1.9"/>
<line x1="535.24" y1="394.34" x2="543.24" y2="394.34" stroke="#b2ae7c" stroke-width="2.0"/>
<line x1="535.24" y1="398.29" x2="543.24" y2="398.29" stroke="#b2ae7c" stroke-width="2.0"/>
<line x1="565.45" y1="391.87" x2="565.45" y2="395.82" stroke="#b2ae7c" stroke-width="1.9"/>
<line x1="561.45" y1="391.87" x2="569.45" y2="391.87" stroke="#b2ae7c" stroke-width="2.0"/>
<line x1="561.45" y1="395.82" x2="569.45" y2="395.82" stroke="#b2ae7c" stroke-width="2.0"/>
<line x1="591.66" y1="396.81" x2="591.66" y2="400.75" stroke="#b2ae7c" stroke-width="1.9"/>
<line x1="587.66" y1="396.81" x2="595.66" y2="396.81" stroke="#b2ae7c" stroke-width="2.0"/>
<line x1="587.66" y1="400.75" x2="595.66" y2="400.75" stroke="#b2ae7c" stroke-width="2.0"/>
<line x1="617.87" y1="396.48" x2="617.87" y2="400.42" stroke="#b2ae7c" stroke-width="1.9"/>
<line x1="613.87" y1="396.48" x2="621.87" y2="396.48" stroke="#b2ae7c" stroke-width="2.0"/>
<line x1="613.87" y1="400.42" x2="621.87" y2="400.42" stroke="#b2ae7c" stroke-width="2.0"/>
<line x1="644.08" y1="396.81" x2="644.08" y2="400.75" stroke="#b2ae7c" stroke-width="1.9"/>
<line x1="640.08" y1="396.81" x2="648.08" y2="396.81" stroke="#b2ae7c" stroke-width="2.0"/>
<line x1="640.08" y1="400.75" x2="648.08" y2="400.75" stroke="#b2ae7c" stroke-width="2.0"/>
<line x1="670.29" y1="395.66" x2="670.29" y2="399.60" stroke="#b2ae7c" stroke-width="1.9"/>
<line x1="666.29" y1="395.66" x2="674.29" y2="395.66" stroke="#b2ae7c" stroke-width="2.0"/>
<line x1="666.29" y1="399.60" x2="674.29" y2="399.60" stroke="#b2ae7c" stroke-width="2.0"/>
<polygon points="434.40,385.64 437.92,391.72 430.88,391.72" fill="#b2ae7c" stroke="#b2ae7c" stroke-width="1.9"/>
<polygon points="460.61,390.90 464.13,396.98 457.09,396.98" fill="#b2ae7c" stroke="#b2ae7c" stroke-width="1.9"/>
<polygon points="486.82,389.25 490.34,395.33 483.30,395.33" fill="#b2ae7c" stroke="#b2ae7c" stroke-width="1.9"/>
<polygon points="513.03,390.08 516.55,396.16 509.51,396.16" fill="#b2ae7c" stroke="#b2ae7c" stroke-width="1.9"/>
<polygon points="539.24,392.54 542.76,398.62 535.72,398.62" fill="#b2ae7c" stroke="#b2ae7c" stroke-width="1.9"/>
<polygon points="565.45,390.08 568.97,396.16 561.93,396.16" fill="#b2ae7c" stroke="#b2ae7c" stroke-width="1.9"/>
<polygon points="591.66,395.01 595.18,401.09 588.14,401.09" fill="#b2ae7c" stroke="#b2ae7c" stroke-width="1.9"/>
<polygon points="617.87,394.68 621.39,400.76 614.35,400.76" fill="#b2ae7c" stroke="#b2ae7c" stroke-width="1.9"/>
<polygon points="644.08,395.01 647.60,401.09 640.56,401.09" fill="#b2ae7c" stroke="#b2ae7c" stroke-width="1.9"/>
<polygon points="670.29,393.86 673.81,399.94 666.77,399.94" fill="#b2ae7c" stroke="#b2ae7c" stroke-width="1.9"/>
<polyline points="434.40,397.13 460.61,397.13 486.82,397.13 513.03,394.50 539.24,397.13 565.45,393.85 591.66,399.93 617.87,399.27 644.08,399.93 670.29,397.63" fill="none" stroke="#8fb4de" stroke-width="1.9"/>
<line x1="434.40" y1="395.82" x2="434.40" y2="398.45" stroke="#8fb4de" stroke-width="1.9"/>
<line x1="430.40" y1="395.82" x2="438.40" y2="395.82" stroke="#8fb4de" stroke-width="2.0"/>
<line x1="430.40" y1="398.45" x2="438.40" y2="398.45" stroke="#8fb4de" stroke-width="2.0"/>
<line x1="460.61" y1="395.82" x2="460.61" y2="398.45" stroke="#8fb4de" stroke-width="1.9"/>
<line x1="456.61" y1="395.82" x2="464.61" y2="395.82" stroke="#8fb4de" stroke-width="2.0"/>
<line x1="456.61" y1="398.45" x2="464.61" y2="398.45" stroke="#8fb4de" stroke-width="2.0"/>
<line x1="486.82" y1="395.82" x2="486.82" y2="398.45" stroke="#8fb4de" stroke-width="1.9"/>
<line x1="482.82" y1="395.82" x2="490.82" y2="395.82" stroke="#8fb4de" stroke-width="2.0"/>
<line x1="482.82" y1="398.45" x2="490.82" y2="398.45" stroke="#8fb4de" stroke-width="2.0"/>
<line x1="513.03" y1="393.19" x2="513.03" y2="395.82" stroke="#8fb4de" stroke-width="1.9"/>
<line x1="509.03" y1="393.19" x2="517.03" y2="393.19" stroke="#8fb4de" stroke-width="2.0"/>
<line x1="509.03" y1="395.82" x2="517.03" y2="395.82" stroke="#8fb4de" stroke-width="2.0"/>
<line x1="539.24" y1="395.82" x2="539.24" y2="398.45" stroke="#8fb4de" stroke-width="1.9"/>
<line x1="535.24" y1="395.82" x2="543.24" y2="395.82" stroke="#8fb4de" stroke-width="2.0"/>
<line x1="535.24" y1="398.45" x2="543.24" y2="398.45" stroke="#8fb4de" stroke-width="2.0"/>
<line x1="565.45" y1="392.53" x2="565.45" y2="395.16" stroke="#8fb4de" stroke-width="1.9"/>
<line x1="561.45" y1="392.53" x2="569.45" y2="392.53" stroke="#8fb4de" stroke-width="2.0"/>
<line x1="561.45" y1="395.16" x2="569.45" y2="395.16" stroke="#8fb4de" stroke-width="2.0"/>
<line x1="591.66" y1="398.61" x2="591.66" y2="401.25" stroke="#8fb4de" stroke-width="1.9"/>
<line x1="587.66" y1="398.61" x2="595.66" y2="398.61" stroke="#8fb4de" stroke-width="2.0"/>
<line x1="587.66" y1="401.25" x2="595.66" y2="401.25" stroke="#8fb4de" stroke-width="2.0"/>
<line x1="617.87" y1="397.96" x2="617.87" y2="400.59" stroke="#8fb4de" stroke-width="1.9"/>
<line x1="613.87" y1="397.96" x2="621.87" y2="397.96" stroke="#8fb4de" stroke-width="2.0"/>
<line x1="613.87" y1="400.59" x2="621.87" y2="400.59" stroke="#8fb4de" stroke-width="2.0"/>
<line x1="644.08" y1="398.61" x2="644.08" y2="401.25" stroke="#8fb4de" stroke-width="1.9"/>
<line x1="640.08" y1="398.61" x2="648.08" y2="398.61" stroke="#8fb4de" stroke-width="2.0"/>
<line x1="640.08" y1="401.25" x2="648.08" y2="401.25" stroke="#8fb4de" stroke-width="2.0"/>
<line x1="670.29" y1="396.31" x2="670.29" y2="398.94" stroke="#8fb4de" stroke-width="1.9"/>
<line x1="666.29" y1="396.31" x2="674.29" y2="396.31" stroke="#8fb4de" stroke-width="2.0"/>
<line x1="666.29" y1="398.94" x2="674.29" y2="398.94" stroke="#8fb4de" stroke-width="2.0"/>
<rect x="431.20" y="393.94" width="6.4" height="6.4" fill="#8fb4de" stroke="#8fb4de" stroke-width="1.9"/>
<rect x="457.41" y="393.94" width="6.4" height="6.4" fill="#8fb4de" stroke="#8fb4de" stroke-width="1.9"/>
<rect x="483.62" y="393.94" width="6.4" height="6.4" fill="#8fb4de" stroke="#8fb4de" stroke-width="1.9"/>
<rect x="509.83" y="391.30" width="6.4" height="6.4" fill="#8fb4de" stroke="#8fb4de" stroke-width="1.9"/>
<rect x="536.04" y="393.94" width="6.4" height="6.4" fill="#8fb4de" stroke="#8fb4de" stroke-width="1.9"/>
<rect x="562.25" y="390.65" width="6.4" height="6.4" fill="#8fb4de" stroke="#8fb4de" stroke-width="1.9"/>
<rect x="588.46" y="396.73" width="6.4" height="6.4" fill="#8fb4de" stroke="#8fb4de" stroke-width="1.9"/>
<rect x="614.67" y="396.07" width="6.4" height="6.4" fill="#8fb4de" stroke="#8fb4de" stroke-width="1.9"/>
<rect x="640.88" y="396.73" width="6.4" height="6.4" fill="#8fb4de" stroke="#8fb4de" stroke-width="1.9"/>
<rect x="667.09" y="394.43" width="6.4" height="6.4" fill="#8fb4de" stroke="#8fb4de" stroke-width="1.9"/>
<polyline points="434.40,391.38 460.61,393.52 486.82,389.41 513.03,398.61 539.24,395.49 565.45,392.04 591.66,399.27 617.87,398.45 644.08,399.27 670.29,397.63" fill="none" stroke="#a6a6a6" stroke-width="1.9"/>
<line x1="434.40" y1="389.74" x2="434.40" y2="393.02" stroke="#a6a6a6" stroke-width="1.9"/>
<line x1="430.40" y1="389.74" x2="438.40" y2="389.74" stroke="#a6a6a6" stroke-width="2.0"/>
<line x1="430.40" y1="393.02" x2="438.40" y2="393.02" stroke="#a6a6a6" stroke-width="2.0"/>
<line x1="460.61" y1="391.87" x2="460.61" y2="395.16" stroke="#a6a6a6" stroke-width="1.9"/>
<line x1="456.61" y1="391.87" x2="464.61" y2="391.87" stroke="#a6a6a6" stroke-width="2.0"/>
<line x1="456.61" y1="395.16" x2="464.61" y2="395.16" stroke="#a6a6a6" stroke-width="2.0"/>
<line x1="486.82" y1="387.76" x2="486.82" y2="391.05" stroke="#a6a6a6" stroke-width="1.9"/>
<line x1="482.82" y1="387.76" x2="490.82" y2="387.76" stroke="#a6a6a6" stroke-width="2.0"/>
<line x1="482.82" y1="391.05" x2="490.82" y2="391.05" stroke="#a6a6a6" stroke-width="2.0"/>
<line x1="513.03" y1="396.97" x2="513.03" y2="400.26" stroke="#a6a6a6" stroke-width="1.9"/>
<line x1="509.03" y1="396.97" x2="517.03" y2="396.97" stroke="#a6a6a6" stroke-width="2.0"/>
<line x1="509.03" y1="400.26" x2="517.03" y2="400.26" stroke="#a6a6a6" stroke-width="2.0"/>
<line x1="539.24" y1="393.85" x2="539.24" y2="397.13" stroke="#a6a6a6" stroke-width="1.9"/>
<line x1="535.24" y1="393.85" x2="543.24" y2="393.85" stroke="#a6a6a6" stroke-width="2.0"/>
<line x1="535.24" y1="397.13" x2="543.24" y2="397.13" stroke="#a6a6a6" stroke-width="2.0"/>
<line x1="565.45" y1="390.39" x2="565.45" y2="393.68" stroke="#a6a6a6" stroke-width="1.9"/>
<line x1="561.45" y1="390.39" x2="569.45" y2="390.39" stroke="#a6a6a6" stroke-width="2.0"/>
<line x1="561.45" y1="393.68" x2="569.45" y2="393.68" stroke="#a6a6a6" stroke-width="2.0"/>
<line x1="591.66" y1="397.63" x2="591.66" y2="400.92" stroke="#a6a6a6" stroke-width="1.9"/>
<line x1="587.66" y1="397.63" x2="595.66" y2="397.63" stroke="#a6a6a6" stroke-width="2.0"/>
<line x1="587.66" y1="400.92" x2="595.66" y2="400.92" stroke="#a6a6a6" stroke-width="2.0"/>
<line x1="617.87" y1="396.81" x2="617.87" y2="400.09" stroke="#a6a6a6" stroke-width="1.9"/>
<line x1="613.87" y1="396.81" x2="621.87" y2="396.81" stroke="#a6a6a6" stroke-width="2.0"/>
<line x1="613.87" y1="400.09" x2="621.87" y2="400.09" stroke="#a6a6a6" stroke-width="2.0"/>
<line x1="644.08" y1="397.63" x2="644.08" y2="400.92" stroke="#a6a6a6" stroke-width="1.9"/>
<line x1="640.08" y1="397.63" x2="648.08" y2="397.63" stroke="#a6a6a6" stroke-width="2.0"/>
<line x1="640.08" y1="400.92" x2="648.08" y2="400.92" stroke="#a6a6a6" stroke-width="2.0"/>
<line x1="670.29" y1="395.98" x2="670.29" y2="399.27" stroke="#a6a6a6" stroke-width="1.9"/>
<line x1="666.29" y1="395.98" x2="674.29" y2="395.98" stroke="#a6a6a6" stroke-width="2.0"/>
<line x1="666.29" y1="399.27" x2="674.29" y2="399.27" stroke="#a6a6a6" stroke-width="2.0"/>
<circle cx="434.40" cy="391.38" r="3.4" fill="#a6a6a6" stroke="#a6a6a6" stroke-width="1.9"/>
<circle cx="460.61" cy="393.52" r="3.4" fill="#a6a6a6" stroke="#a6a6a6" stroke-width="1.9"/>
<circle cx="486.82" cy="389.41" r="3.4" fill="#a6a6a6" stroke="#a6a6a6" stroke-width="1.9"/>
<circle cx="513.03" cy="398.61" r="3.4" fill="#a6a6a6" stroke="#a6a6a6" stroke-width="1.9"/>
<circle cx="539.24" cy="395.49" r="3.4" fill="#a6a6a6" stroke="#a6a6a6" stroke-width="1.9"/>
<circle cx="565.45" cy="392.04" r="3.4" fill="#a6a6a6" stroke="#a6a6a6" stroke-width="1.9"/>
<circle cx="591.66" cy="399.27" r="3.4" fill="#a6a6a6" stroke="#a6a6a6" stroke-width="1.9"/>
<circle cx="617.87" cy="398.45" r="3.4" fill="#a6a6a6" stroke="#a6a6a6" stroke-width="1.9"/>
<circle cx="644.08" cy="399.27" r="3.4" fill="#a6a6a6" stroke="#a6a6a6" stroke-width="1.9"/>
<circle cx="670.29" cy="397.63" r="3.4" fill="#a6a6a6" stroke="#a6a6a6" stroke-width="1.9"/>
<polyline points="434.40,331.04 460.61,360.14 486.82,358.66 513.03,365.90 539.24,369.35 565.45,376.09 591.66,381.84 617.87,378.39 644.08,388.59 670.29,396.31" fill="none" stroke="#b2ae7c" stroke-width="1.9"/>
<line x1="434.40" y1="320.35" x2="434.40" y2="341.73" stroke="#b2ae7c" stroke-width="1.9"/>
<line x1="430.40" y1="320.35" x2="438.40" y2="320.35" stroke="#b2ae7c" stroke-width="2.0"/>
<line x1="430.40" y1="341.73" x2="438.40" y2="341.73" stroke="#b2ae7c" stroke-width="2.0"/>
<line x1="460.61" y1="357.68" x2="460.61" y2="362.61" stroke="#b2ae7c" stroke-width="1.9"/>
<line x1="456.61" y1="357.68" x2="464.61" y2="357.68" stroke="#b2ae7c" stroke-width="2.0"/>
<line x1="456.61" y1="362.61" x2="464.61" y2="362.61" stroke="#b2ae7c" stroke-width="2.0"/>
<line x1="486.82" y1="355.37" x2="486.82" y2="361.95" stroke="#b2ae7c" stroke-width="1.9"/>
<line x1="482.82" y1="355.37" x2="490.82" y2="355.37" stroke="#b2ae7c" stroke-width="2.0"/>
<line x1="482.82" y1="361.95" x2="490.82" y2="361.95" stroke="#b2ae7c" stroke-width="2.0"/>
<line x1="513.03" y1="362.61" x2="513.03" y2="369.18" stroke="#b2ae7c" stroke-width="1.9"/>
<line x1="509.03" y1="362.61" x2="517.03" y2="362.61" stroke="#b2ae7c" stroke-width="2.0"/>
<line x1="509.03" y1="369.18" x2="517.03" y2="369.18" stroke="#b2ae7c" stroke-width="2.0"/>
<line x1="539.24" y1="365.07" x2="539.24" y2="373.62" stroke="#b2ae7c" stroke-width="1.9"/>
<line x1="535.24" y1="365.07" x2="543.24" y2="365.07" stroke="#b2ae7c" stroke-width="2.0"/>
<line x1="535.24" y1="373.62" x2="543.24" y2="373.62" stroke="#b2ae7c" stroke-width="2.0"/>
<line x1="565.45" y1="373.62" x2="565.45" y2="378.56" stroke="#b2ae7c" stroke-width="1.9"/>
<line x1="561.45" y1="373.62" x2="569.45" y2="373.62" stroke="#b2ae7c" stroke-width="2.0"/>
<line x1="561.45" y1="378.56" x2="569.45" y2="378.56" stroke="#b2ae7c" stroke-width="2.0"/>
<line x1="591.66" y1="378.56" x2="591.66" y2="385.13" stroke="#b2ae7c" stroke-width="1.9"/>
<line x1="587.66" y1="378.56" x2="595.66" y2="378.56" stroke="#b2ae7c" stroke-width="2.0"/>
<line x1="587.66" y1="385.13" x2="595.66" y2="385.13" stroke="#b2ae7c" stroke-width="2.0"/>
<line x1="617.87" y1="373.95" x2="617.87" y2="382.83" stroke="#b2ae7c" stroke-width="1.9"/>
<line x1="613.87" y1="373.95" x2="621.87" y2="373.95" stroke="#b2ae7c" stroke-width="2.0"/>
<line x1="613.87" y1="382.83" x2="621.87" y2="382.83" stroke="#b2ae7c" stroke-width="2.0"/>
<line x1="644.08" y1="385.30" x2="644.08" y2="391.87" stroke="#b2ae7c" stroke-width="1.9"/>
<line x1="640.08" y1="385.30" x2="648.08" y2="385.30" stroke="#b2ae7c" stroke-width="2.0"/>
<line x1="640.08" y1="391.87" x2="648.08" y2="391.87" stroke="#b2ae7c" stroke-width="2.0"/>
<line x1="670.29" y1="393.85" x2="670.29" y2="398.78" stroke="#b2ae7c" stroke-width="1.9"/>
<line x1="666.29" y1="393.85" x2="674.29" y2="393.85" stroke="#b2ae7c" stroke-width="2.0"/>
<line x1="666.29" y1="398.78" x2="674.29" y2="398.78" stroke="#b2ae7c" stroke-width="2.0"/>
<polygon points="434.40,327.51 437.70,333.21 431.10,333.21" fill="#fff" stroke="#b2ae7c" stroke-width="1.9"/>
<polygon points="460.61,356.61 463.91,362.31 457.31,362.31" fill="#fff" stroke="#b2ae7c" stroke-width="1.9"/>
<polygon points="486.82,355.13 490.12,360.83 483.52,360.83" fill="#fff" stroke="#b2ae7c" stroke-width="1.9"/>
<polygon points="513.03,362.36 516.33,368.06 509.73,368.06" fill="#fff" stroke="#b2ae7c" stroke-width="1.9"/>
<polygon points="539.24,365.81 542.54,371.51 535.94,371.51" fill="#fff" stroke="#b2ae7c" stroke-width="1.9"/>
<polygon points="565.45,372.56 568.75,378.26 562.15,378.26" fill="#fff" stroke="#b2ae7c" stroke-width="1.9"/>
<polygon points="591.66,378.31 594.96,384.01 588.36,384.01" fill="#fff" stroke="#b2ae7c" stroke-width="1.9"/>
<polygon points="617.87,374.86 621.17,380.56 614.57,380.56" fill="#fff" stroke="#b2ae7c" stroke-width="1.9"/>
<polygon points="644.08,385.05 647.38,390.75 640.78,390.75" fill="#fff" stroke="#b2ae7c" stroke-width="1.9"/>
<polygon points="670.29,392.78 673.59,398.48 666.99,398.48" fill="#fff" stroke="#b2ae7c" stroke-width="1.9"/>
<polyline points="434.40,326.27 460.61,348.30 486.82,354.55 513.03,372.31 539.24,373.95 565.45,377.24 591.66,392.04 617.87,392.53 644.08,383.00 670.29,393.19" fill="none" stroke="#8fb4de" stroke-width="1.9"/>
<line x1="434.40" y1="316.57" x2="434.40" y2="335.97" stroke="#8fb4de" stroke-width="1.9"/>
<line x1="430.40" y1="316.57" x2="438.40" y2="316.57" stroke="#8fb4de" stroke-width="2.0"/>
<line x1="430.40" y1="335.97" x2="438.40" y2="335.97" stroke="#8fb4de" stroke-width="2.0"/>
<line x1="460.61" y1="343.37" x2="460.61" y2="353.24" stroke="#8fb4de" stroke-width="1.9"/>
<line x1="456.61" y1="343.37" x2="464.61" y2="343.37" stroke="#8fb4de" stroke-width="2.0"/>
<line x1="456.61" y1="353.24" x2="464.61" y2="353.24" stroke="#8fb4de" stroke-width="2.0"/>
<line x1="486.82" y1="349.62" x2="486.82" y2="359.48" stroke="#8fb4de" stroke-width="1.9"/>
<line x1="482.82" y1="349.62" x2="490.82" y2="349.62" stroke="#8fb4de" stroke-width="2.0"/>
<line x1="482.82" y1="359.48" x2="490.82" y2="359.48" stroke="#8fb4de" stroke-width="2.0"/>
<line x1="513.03" y1="368.20" x2="513.03" y2="376.42" stroke="#8fb4de" stroke-width="1.9"/>
<line x1="509.03" y1="368.20" x2="517.03" y2="368.20" stroke="#8fb4de" stroke-width="2.0"/>
<line x1="509.03" y1="376.42" x2="517.03" y2="376.42" stroke="#8fb4de" stroke-width="2.0"/>
<line x1="539.24" y1="369.84" x2="539.24" y2="378.06" stroke="#8fb4de" stroke-width="1.9"/>
<line x1="535.24" y1="369.84" x2="543.24" y2="369.84" stroke="#8fb4de" stroke-width="2.0"/>
<line x1="535.24" y1="378.06" x2="543.24" y2="378.06" stroke="#8fb4de" stroke-width="2.0"/>
<line x1="565.45" y1="373.95" x2="565.45" y2="380.53" stroke="#8fb4de" stroke-width="1.9"/>
<line x1="561.45" y1="373.95" x2="569.45" y2="373.95" stroke="#8fb4de" stroke-width="2.0"/>
<line x1="561.45" y1="380.53" x2="569.45" y2="380.53" stroke="#8fb4de" stroke-width="2.0"/>
<line x1="591.66" y1="388.42" x2="591.66" y2="395.66" stroke="#8fb4de" stroke-width="1.9"/>
<line x1="587.66" y1="388.42" x2="595.66" y2="388.42" stroke="#8fb4de" stroke-width="2.0"/>
<line x1="587.66" y1="395.66" x2="595.66" y2="395.66" stroke="#8fb4de" stroke-width="2.0"/>
<line x1="617.87" y1="389.24" x2="617.87" y2="395.82" stroke="#8fb4de" stroke-width="1.9"/>
<line x1="613.87" y1="389.24" x2="621.87" y2="389.24" stroke="#8fb4de" stroke-width="2.0"/>
<line x1="613.87" y1="395.82" x2="621.87" y2="395.82" stroke="#8fb4de" stroke-width="2.0"/>
<line x1="644.08" y1="379.71" x2="644.08" y2="386.28" stroke="#8fb4de" stroke-width="1.9"/>
<line x1="640.08" y1="379.71" x2="648.08" y2="379.71" stroke="#8fb4de" stroke-width="2.0"/>
<line x1="640.08" y1="386.28" x2="648.08" y2="386.28" stroke="#8fb4de" stroke-width="2.0"/>
<line x1="670.29" y1="389.90" x2="670.29" y2="396.48" stroke="#8fb4de" stroke-width="1.9"/>
<line x1="666.29" y1="389.90" x2="674.29" y2="389.90" stroke="#8fb4de" stroke-width="2.0"/>
<line x1="666.29" y1="396.48" x2="674.29" y2="396.48" stroke="#8fb4de" stroke-width="2.0"/>
<rect x="431.30" y="323.17" width="6.2" height="6.2" fill="#fff" stroke="#8fb4de" stroke-width="1.9"/>
<rect x="457.51" y="345.20" width="6.2" height="6.2" fill="#fff" stroke="#8fb4de" stroke-width="1.9"/>
<rect x="483.72" y="351.45" width="6.2" height="6.2" fill="#fff" stroke="#8fb4de" stroke-width="1.9"/>
<rect x="509.93" y="369.21" width="6.2" height="6.2" fill="#fff" stroke="#8fb4de" stroke-width="1.9"/>
<rect x="536.14" y="370.85" width="6.2" height="6.2" fill="#fff" stroke="#8fb4de" stroke-width="1.9"/>
<rect x="562.35" y="374.14" width="6.2" height="6.2" fill="#fff" stroke="#8fb4de" stroke-width="1.9"/>
<rect x="588.56" y="388.94" width="6.2" height="6.2" fill="#fff" stroke="#8fb4de" stroke-width="1.9"/>
<rect x="614.77" y="389.43" width="6.2" height="6.2" fill="#fff" stroke="#8fb4de" stroke-width="1.9"/>
<rect x="640.98" y="379.90" width="6.2" height="6.2" fill="#fff" stroke="#8fb4de" stroke-width="1.9"/>
<rect x="667.19" y="390.09" width="6.2" height="6.2" fill="#fff" stroke="#8fb4de" stroke-width="1.9"/>
<polyline points="434.40,254.59 460.61,327.42 486.82,362.61 513.03,360.14 539.24,379.54 565.45,375.76 591.66,375.76 617.87,387.93 644.08,387.43 670.29,398.45" fill="none" stroke="#a6a6a6" stroke-width="1.9"/>
<line x1="434.40" y1="238.64" x2="434.40" y2="270.53" stroke="#a6a6a6" stroke-width="1.9"/>
<line x1="430.40" y1="238.64" x2="438.40" y2="238.64" stroke="#a6a6a6" stroke-width="2.0"/>
<line x1="430.40" y1="270.53" x2="438.40" y2="270.53" stroke="#a6a6a6" stroke-width="2.0"/>
<line x1="460.61" y1="314.27" x2="460.61" y2="340.58" stroke="#a6a6a6" stroke-width="1.9"/>
<line x1="456.61" y1="314.27" x2="464.61" y2="314.27" stroke="#a6a6a6" stroke-width="2.0"/>
<line x1="456.61" y1="340.58" x2="464.61" y2="340.58" stroke="#a6a6a6" stroke-width="2.0"/>
<line x1="486.82" y1="358.00" x2="486.82" y2="367.21" stroke="#a6a6a6" stroke-width="1.9"/>
<line x1="482.82" y1="358.00" x2="490.82" y2="358.00" stroke="#a6a6a6" stroke-width="2.0"/>
<line x1="482.82" y1="367.21" x2="490.82" y2="367.21" stroke="#a6a6a6" stroke-width="2.0"/>
<line x1="513.03" y1="354.88" x2="513.03" y2="365.40" stroke="#a6a6a6" stroke-width="1.9"/>
<line x1="509.03" y1="354.88" x2="517.03" y2="354.88" stroke="#a6a6a6" stroke-width="2.0"/>
<line x1="509.03" y1="365.40" x2="517.03" y2="365.40" stroke="#a6a6a6" stroke-width="2.0"/>
<line x1="539.24" y1="375.93" x2="539.24" y2="383.16" stroke="#a6a6a6" stroke-width="1.9"/>
<line x1="535.24" y1="375.93" x2="543.24" y2="375.93" stroke="#a6a6a6" stroke-width="2.0"/>
<line x1="535.24" y1="383.16" x2="543.24" y2="383.16" stroke="#a6a6a6" stroke-width="2.0"/>
<line x1="565.45" y1="372.47" x2="565.45" y2="379.05" stroke="#a6a6a6" stroke-width="1.9"/>
<line x1="561.45" y1="372.47" x2="569.45" y2="372.47" stroke="#a6a6a6" stroke-width="2.0"/>
<line x1="561.45" y1="379.05" x2="569.45" y2="379.05" stroke="#a6a6a6" stroke-width="2.0"/>
<line x1="591.66" y1="372.47" x2="591.66" y2="379.05" stroke="#a6a6a6" stroke-width="1.9"/>
<line x1="587.66" y1="372.47" x2="595.66" y2="372.47" stroke="#a6a6a6" stroke-width="2.0"/>
<line x1="587.66" y1="379.05" x2="595.66" y2="379.05" stroke="#a6a6a6" stroke-width="2.0"/>
<line x1="617.87" y1="383.82" x2="617.87" y2="392.04" stroke="#a6a6a6" stroke-width="1.9"/>
<line x1="613.87" y1="383.82" x2="621.87" y2="383.82" stroke="#a6a6a6" stroke-width="2.0"/>
<line x1="613.87" y1="392.04" x2="621.87" y2="392.04" stroke="#a6a6a6" stroke-width="2.0"/>
<line x1="644.08" y1="383.82" x2="644.08" y2="391.05" stroke="#a6a6a6" stroke-width="1.9"/>
<line x1="640.08" y1="383.82" x2="648.08" y2="383.82" stroke="#a6a6a6" stroke-width="2.0"/>
<line x1="640.08" y1="391.05" x2="648.08" y2="391.05" stroke="#a6a6a6" stroke-width="2.0"/>
<line x1="670.29" y1="395.98" x2="670.29" y2="400.92" stroke="#a6a6a6" stroke-width="1.9"/>
<line x1="666.29" y1="395.98" x2="674.29" y2="395.98" stroke="#a6a6a6" stroke-width="2.0"/>
<line x1="666.29" y1="400.92" x2="674.29" y2="400.92" stroke="#a6a6a6" stroke-width="2.0"/>
<circle cx="434.40" cy="254.59" r="3.3" fill="#fff" stroke="#a6a6a6" stroke-width="1.9"/>
<circle cx="460.61" cy="327.42" r="3.3" fill="#fff" stroke="#a6a6a6" stroke-width="1.9"/>
<circle cx="486.82" cy="362.61" r="3.3" fill="#fff" stroke="#a6a6a6" stroke-width="1.9"/>
<circle cx="513.03" cy="360.14" r="3.3" fill="#fff" stroke="#a6a6a6" stroke-width="1.9"/>
<circle cx="539.24" cy="379.54" r="3.3" fill="#fff" stroke="#a6a6a6" stroke-width="1.9"/>
<circle cx="565.45" cy="375.76" r="3.3" fill="#fff" stroke="#a6a6a6" stroke-width="1.9"/>
<circle cx="591.66" cy="375.76" r="3.3" fill="#fff" stroke="#a6a6a6" stroke-width="1.9"/>
<circle cx="617.87" cy="387.93" r="3.3" fill="#fff" stroke="#a6a6a6" stroke-width="1.9"/>
<circle cx="644.08" cy="387.43" r="3.3" fill="#fff" stroke="#a6a6a6" stroke-width="1.9"/>
<circle cx="670.29" cy="398.45" r="3.3" fill="#fff" stroke="#a6a6a6" stroke-width="1.9"/>
<line x1="534.80" y1="205.60" x2="557.70" y2="205.60" stroke="#a6a6a6" stroke-width="1.9"/>
<circle cx="546.30" cy="205.60" r="2.8" fill="#fff" stroke="#a6a6a6" stroke-width="1.9"/>
<text x="606.70" y="209.20" font-size="10.45" text-anchor="middle" fill="#222" textLength="76.25" lengthAdjust="spacingAndGlyphs">Active NAC+HC</text>
<line x1="534.80" y1="217.90" x2="557.70" y2="217.90" stroke="#8fb4de" stroke-width="1.9"/>
<rect x="543.50" y="215.10" width="5.6" height="5.6" fill="#fff" stroke="#8fb4de" stroke-width="1.9"/>
<text x="610.00" y="221.50" font-size="10.45" text-anchor="middle" fill="#222" textLength="82.82" lengthAdjust="spacingAndGlyphs">Active VEH+NAC</text>
<line x1="534.80" y1="230.60" x2="557.70" y2="230.60" stroke="#b2ae7c" stroke-width="1.9"/>
<polygon points="546.30,227.30 549.38,232.62 543.22,232.62" fill="#fff" stroke="#b2ae7c" stroke-width="1.9"/>
<text x="622.50" y="234.20" font-size="10.45" text-anchor="middle" fill="#222" textLength="107.82" lengthAdjust="spacingAndGlyphs">Active LY341495+NAC</text>
<line x1="534.80" y1="243.30" x2="557.70" y2="243.30" stroke="#a6a6a6" stroke-width="1.9"/>
<circle cx="546.30" cy="243.30" r="2.8" fill="#a6a6a6" stroke="#a6a6a6" stroke-width="1.9"/>
<text x="609.60" y="246.90" font-size="10.45" text-anchor="middle" fill="#222" textLength="83.35" lengthAdjust="spacingAndGlyphs">Inactive NAC+HC</text>
<line x1="534.80" y1="256.00" x2="557.70" y2="256.00" stroke="#8fb4de" stroke-width="1.9"/>
<rect x="543.50" y="253.20" width="5.6" height="5.6" fill="#8fb4de" stroke="#8fb4de" stroke-width="1.9"/>
<text x="612.80" y="259.60" font-size="10.45" text-anchor="middle" fill="#222" textLength="89.81" lengthAdjust="spacingAndGlyphs">Inactive VEH+NAC</text>
<line x1="534.80" y1="267.90" x2="557.70" y2="267.90" stroke="#b2ae7c" stroke-width="1.9"/>
<polygon points="546.30,264.60 549.38,269.92 543.22,269.92" fill="#b2ae7c" stroke="#b2ae7c" stroke-width="1.9"/>
<text x="625.80" y="271.50" font-size="10.45" text-anchor="middle" fill="#222" textLength="113.89" lengthAdjust="spacingAndGlyphs">Inactive LY341495+NAC</text>
<rect x="95.60" y="671.77" width="23.00" height="7.33" fill="#dcdcdc"/>
<rect x="130.80" y="667.90" width="23.20" height="11.20" fill="#9dbbdc"/>
<rect x="165.30" y="668.70" width="23.30" height="10.40" fill="#b9b687"/>
<rect x="223.10" y="590.30" width="23.70" height="88.80" fill="#dcdcdc"/>
<rect x="258.20" y="630.17" width="23.30" height="48.93" fill="#9dbbdc"/>
<rect x="293.20" y="589.77" width="23.10" height="89.33" fill="#b9b687"/>
<line x1="107.10" y1="672.27" x2="107.10" y2="669.10" stroke="#000" stroke-width="2.0"/>
<line x1="100.40" y1="669.10" x2="113.80" y2="669.10" stroke="#000" stroke-width="2.2"/>
<ellipse cx="107.50" cy="660.90" rx="2.75" ry="2.3" fill="#fff" stroke="#000" stroke-width="1.2"/>
<ellipse cx="111.50" cy="666.50" rx="2.75" ry="2.3" fill="#fff" stroke="#000" stroke-width="1.2"/>
<ellipse cx="106.70" cy="669.70" rx="2.75" ry="2.3" fill="#fff" stroke="#000" stroke-width="1.2"/>
<ellipse cx="102.70" cy="673.70" rx="2.75" ry="2.3" fill="#fff" stroke="#000" stroke-width="1.2"/>
<ellipse cx="116.30" cy="672.90" rx="2.75" ry="2.3" fill="#fff" stroke="#000" stroke-width="1.2"/>
<ellipse cx="98.60" cy="676.60" rx="2.75" ry="2.3" fill="#fff" stroke="#000" stroke-width="1.2"/>
<ellipse cx="107.50" cy="675.30" rx="2.75" ry="2.3" fill="#fff" stroke="#000" stroke-width="1.2"/>
<ellipse cx="111.50" cy="675.30" rx="2.75" ry="2.3" fill="#fff" stroke="#000" stroke-width="1.2"/>
<ellipse cx="116.30" cy="678.00" rx="2.75" ry="2.3" fill="#fff" stroke="#000" stroke-width="1.2"/>
<line x1="142.40" y1="668.40" x2="142.40" y2="664.97" stroke="#000" stroke-width="2.0"/>
<line x1="135.70" y1="664.97" x2="149.10" y2="664.97" stroke="#000" stroke-width="2.2"/>
<rect x="136.45" y="658.75" width="5.70" height="4.30" fill="#fff" stroke="#000" stroke-width="1.3"/>
<rect x="142.35" y="658.45" width="5.70" height="4.30" fill="#fff" stroke="#000" stroke-width="1.3"/>
<rect x="147.95" y="658.45" width="5.70" height="4.30" fill="#fff" stroke="#000" stroke-width="1.3"/>
<rect x="130.35" y="664.35" width="5.70" height="4.30" fill="#fff" stroke="#000" stroke-width="1.3"/>
<rect x="136.45" y="668.35" width="5.70" height="4.30" fill="#fff" stroke="#000" stroke-width="1.3"/>
<rect x="130.35" y="672.35" width="5.70" height="4.30" fill="#fff" stroke="#000" stroke-width="1.3"/>
<rect x="142.35" y="671.55" width="5.70" height="4.30" fill="#fff" stroke="#000" stroke-width="1.3"/>
<rect x="147.95" y="671.55" width="5.70" height="4.30" fill="#fff" stroke="#000" stroke-width="1.3"/>
<rect x="136.45" y="674.35" width="5.70" height="4.30" fill="#fff" stroke="#000" stroke-width="1.3"/>
<line x1="176.95" y1="669.20" x2="176.95" y2="666.03" stroke="#000" stroke-width="2.0"/>
<line x1="170.25" y1="666.03" x2="183.65" y2="666.03" stroke="#000" stroke-width="2.2"/>
<polygon points="167.70,658.05 170.40,663.05 165.00,663.05" fill="#fff" stroke="#000" stroke-width="1.3"/>
<polygon points="173.30,660.45 176.00,665.45 170.60,665.45" fill="#fff" stroke="#000" stroke-width="1.3"/>
<polygon points="179.70,661.55 182.40,666.55 177.00,666.55" fill="#fff" stroke="#000" stroke-width="1.3"/>
<polygon points="185.90,660.45 188.60,665.45 183.20,665.45" fill="#fff" stroke="#000" stroke-width="1.3"/>
<polygon points="173.60,666.05 176.30,671.05 170.90,671.05" fill="#fff" stroke="#000" stroke-width="1.3"/>
<polygon points="167.70,670.05 170.40,675.05 165.00,675.05" fill="#fff" stroke="#000" stroke-width="1.3"/>
<polygon points="179.70,673.75 182.40,678.75 177.00,678.75" fill="#fff" stroke="#000" stroke-width="1.3"/>
<polygon points="185.90,672.15 188.60,677.15 183.20,677.15" fill="#fff" stroke="#000" stroke-width="1.3"/>
<polygon points="167.70,676.15 170.40,681.15 165.00,681.15" fill="#fff" stroke="#000" stroke-width="1.3"/>
<line x1="234.95" y1="590.80" x2="234.95" y2="580.17" stroke="#000" stroke-width="2.0"/>
<line x1="228.25" y1="580.17" x2="241.65" y2="580.17" stroke="#000" stroke-width="2.2"/>
<ellipse cx="234.90" cy="531.50" rx="2.75" ry="2.3" fill="#fff" stroke="#000" stroke-width="1.2"/>
<ellipse cx="234.90" cy="573.10" rx="2.75" ry="2.3" fill="#fff" stroke="#000" stroke-width="1.2"/>
<ellipse cx="234.90" cy="578.00" rx="2.75" ry="2.3" fill="#fff" stroke="#000" stroke-width="1.2"/>
<ellipse cx="229.30" cy="598.90" rx="2.75" ry="2.3" fill="#fff" stroke="#000" stroke-width="1.2"/>
<ellipse cx="229.30" cy="604.70" rx="2.75" ry="2.3" fill="#fff" stroke="#000" stroke-width="1.2"/>
<ellipse cx="240.70" cy="602.90" rx="2.75" ry="2.3" fill="#fff" stroke="#000" stroke-width="1.2"/>
<ellipse cx="234.90" cy="610.00" rx="2.75" ry="2.3" fill="#fff" stroke="#000" stroke-width="1.2"/>
<ellipse cx="234.90" cy="628.70" rx="2.75" ry="2.3" fill="#fff" stroke="#000" stroke-width="1.2"/>
<line x1="269.85" y1="630.67" x2="269.85" y2="621.37" stroke="#000" stroke-width="2.0"/>
<line x1="263.15" y1="621.37" x2="276.55" y2="621.37" stroke="#000" stroke-width="2.2"/>
<rect x="266.75" y="579.75" width="5.70" height="4.30" fill="#fff" stroke="#000" stroke-width="1.3"/>
<rect x="266.75" y="600.75" width="5.70" height="4.30" fill="#fff" stroke="#000" stroke-width="1.3"/>
<rect x="266.75" y="619.55" width="5.70" height="4.30" fill="#fff" stroke="#000" stroke-width="1.3"/>
<rect x="261.15" y="627.55" width="5.70" height="4.30" fill="#fff" stroke="#000" stroke-width="1.3"/>
<rect x="272.35" y="630.05" width="5.70" height="4.30" fill="#fff" stroke="#000" stroke-width="1.3"/>
<rect x="272.85" y="643.65" width="5.70" height="4.30" fill="#fff" stroke="#000" stroke-width="1.3"/>
<rect x="261.15" y="647.55" width="5.70" height="4.30" fill="#fff" stroke="#000" stroke-width="1.3"/>
<rect x="272.85" y="648.55" width="5.70" height="4.30" fill="#fff" stroke="#000" stroke-width="1.3"/>
<rect x="266.75" y="657.15" width="5.70" height="4.30" fill="#fff" stroke="#000" stroke-width="1.3"/>
<line x1="304.75" y1="590.27" x2="304.75" y2="578.83" stroke="#000" stroke-width="2.0"/>
<line x1="298.05" y1="578.83" x2="311.45" y2="578.83" stroke="#000" stroke-width="2.2"/>
<polygon points="304.60,537.95 307.30,542.95 301.90,542.95" fill="#fff" stroke="#000" stroke-width="1.3"/>
<polygon points="299.00,559.15 301.70,564.15 296.30,564.15" fill="#fff" stroke="#000" stroke-width="1.3"/>
<polygon points="310.20,558.55 312.90,563.55 307.50,563.55" fill="#fff" stroke="#000" stroke-width="1.3"/>
<polygon points="304.60,564.55 307.30,569.55 301.90,569.55" fill="#fff" stroke="#000" stroke-width="1.3"/>
<polygon points="304.60,598.35 307.30,603.35 301.90,603.35" fill="#fff" stroke="#000" stroke-width="1.3"/>
<polygon points="304.60,606.55 307.30,611.55 301.90,611.55" fill="#fff" stroke="#000" stroke-width="1.3"/>
<polygon points="299.00,617.05 301.70,622.05 296.30,622.05" fill="#fff" stroke="#000" stroke-width="1.3"/>
<polygon points="310.20,617.05 312.90,622.05 307.50,622.05" fill="#fff" stroke="#000" stroke-width="1.3"/>
<polygon points="304.60,628.65 307.30,633.65 301.90,633.65" fill="#fff" stroke="#000" stroke-width="1.3"/>
<line x1="84.00" y1="518.10" x2="84.00" y2="680.10" stroke="#000" stroke-width="2"/>
<line x1="83.00" y1="679.10" x2="327.40" y2="679.10" stroke="#000" stroke-width="2"/>
<line x1="76.20" y1="679.10" x2="84.00" y2="679.10" stroke="#000" stroke-width="2"/>
<text x="70.80" y="683.47" font-size="12.3" text-anchor="middle" font-weight="bold" textLength="9.67" lengthAdjust="spacingAndGlyphs">0</text>
<line x1="76.20" y1="652.43" x2="84.00" y2="652.43" stroke="#000" stroke-width="2"/>
<text x="66.83" y="656.80" font-size="12.3" text-anchor="middle" font-weight="bold" textLength="15.78" lengthAdjust="spacingAndGlyphs">20</text>
<line x1="76.20" y1="625.77" x2="84.00" y2="625.77" stroke="#000" stroke-width="2"/>
<text x="67.33" y="630.13" font-size="12.3" text-anchor="middle" font-weight="bold" textLength="14.73" lengthAdjust="spacingAndGlyphs">40</text>
<line x1="76.20" y1="599.10" x2="84.00" y2="599.10" stroke="#000" stroke-width="2"/>
<text x="66.83" y="603.47" font-size="12.3" text-anchor="middle" font-weight="bold" textLength="15.78" lengthAdjust="spacingAndGlyphs">60</text>
<line x1="76.20" y1="572.43" x2="84.00" y2="572.43" stroke="#000" stroke-width="2"/>
<text x="66.83" y="576.80" font-size="12.3" text-anchor="middle" font-weight="bold" textLength="15.78" lengthAdjust="spacingAndGlyphs">80</text>
<line x1="76.20" y1="545.77" x2="84.00" y2="545.77" stroke="#000" stroke-width="2"/>
<text x="62.91" y="550.13" font-size="12.3" text-anchor="middle" font-weight="bold" textLength="23.59" lengthAdjust="spacingAndGlyphs">100</text>
<line x1="76.20" y1="519.10" x2="84.00" y2="519.10" stroke="#000" stroke-width="2"/>
<text x="62.91" y="523.47" font-size="12.3" text-anchor="middle" font-weight="bold" textLength="23.59" lengthAdjust="spacingAndGlyphs">120</text>
<line x1="141.50" y1="679.10" x2="141.50" y2="685.30" stroke="#000" stroke-width="2"/>
<text x="141.70" y="698.90" font-size="13" text-anchor="middle" font-weight="bold" textLength="69.85" lengthAdjust="spacingAndGlyphs">Last Ext Day</text>
<line x1="269.60" y1="679.10" x2="269.60" y2="685.30" stroke="#000" stroke-width="2"/>
<text x="269.30" y="698.40" font-size="13" text-anchor="middle" font-weight="bold" textLength="84.65" lengthAdjust="spacingAndGlyphs">Cue Reinst Day</text>
<text x="41.10" y="599.10" font-size="14.5" text-anchor="middle" font-weight="bold" textLength="128.61" lengthAdjust="spacingAndGlyphs" transform="rotate(-90 41.10 599.10)">Active nosepokes (1 h)</text>
<line x1="234.20" y1="520.60" x2="270.80" y2="520.60" stroke="#000" stroke-width="2"/>
<text x="252.70" y="518.00" font-size="19" text-anchor="middle" font-weight="bold" textLength="17.31" lengthAdjust="spacingAndGlyphs">**</text>
<line x1="269.20" y1="500.80" x2="306.00" y2="500.80" stroke="#000" stroke-width="2"/>
<text x="286.85" y="490.20" font-size="14" text-anchor="middle" font-weight="bold" textLength="22.73" lengthAdjust="spacingAndGlyphs">###</text>
<rect x="91.1" y="513.3" width="25.20" height="8.10" fill="#dcdcdc"/>
<text x="152.90" y="521.80" font-size="12.5" text-anchor="middle" fill="#222" textLength="50.33" lengthAdjust="spacingAndGlyphs">NAC+HC</text>
<rect x="91.1" y="529.1" width="25.20" height="8.30" fill="#9dbbdc"/>
<text x="156.80" y="537.60" font-size="12.5" text-anchor="middle" fill="#222" textLength="57.28" lengthAdjust="spacingAndGlyphs">VEH+NAC</text>
<rect x="91.6" y="545.6" width="24.00" height="8.00" fill="#b9b687"/>
<text x="174.80" y="554.70" font-size="12.5" text-anchor="middle" fill="#222" textLength="94.07" lengthAdjust="spacingAndGlyphs">LY341495+NAC</text>
<text x="383.55" y="464.60" font-size="17.5" text-anchor="middle" textLength="256.81" lengthAdjust="spacingAndGlyphs">Cue-induced Reinstatement Test</text>
<rect x="435.40" y="669.78" width="22.80" height="9.52" fill="#dcdcdc"/>
<rect x="469.20" y="669.16" width="22.80" height="10.14" fill="#9dbbdc"/>
<rect x="502.90" y="671.16" width="23.10" height="8.14" fill="#b9b687"/>
<rect x="559.60" y="670.85" width="22.80" height="8.45" fill="#dcdcdc"/>
<rect x="593.30" y="670.39" width="23.00" height="8.91" fill="#9dbbdc"/>
<rect x="627.40" y="670.08" width="23.30" height="9.22" fill="#b9b687"/>
<line x1="446.80" y1="670.28" x2="446.80" y2="667.47" stroke="#000" stroke-width="2.0"/>
<line x1="440.10" y1="667.47" x2="453.50" y2="667.47" stroke="#000" stroke-width="2.2"/>
<ellipse cx="441.20" cy="663.80" rx="2.8" ry="2.75" fill="#fff" stroke="#000" stroke-width="1.2"/>
<ellipse cx="447.70" cy="665.90" rx="2.8" ry="2.75" fill="#fff" stroke="#000" stroke-width="1.2"/>
<ellipse cx="454.70" cy="665.90" rx="2.8" ry="2.75" fill="#fff" stroke="#000" stroke-width="1.2"/>
<ellipse cx="437.20" cy="668.70" rx="2.8" ry="2.75" fill="#fff" stroke="#000" stroke-width="1.2"/>
<ellipse cx="444.20" cy="668.70" rx="2.8" ry="2.75" fill="#fff" stroke="#000" stroke-width="1.2"/>
<ellipse cx="452.00" cy="668.70" rx="2.8" ry="2.75" fill="#fff" stroke="#000" stroke-width="1.2"/>
<ellipse cx="441.20" cy="674.70" rx="2.8" ry="2.75" fill="#fff" stroke="#000" stroke-width="1.2"/>
<ellipse cx="447.70" cy="673.40" rx="2.8" ry="2.75" fill="#fff" stroke="#000" stroke-width="1.2"/>
<ellipse cx="452.00" cy="673.40" rx="2.8" ry="2.75" fill="#fff" stroke="#000" stroke-width="1.2"/>
<line x1="480.60" y1="669.66" x2="480.60" y2="666.86" stroke="#000" stroke-width="2.0"/>
<line x1="473.90" y1="666.86" x2="487.30" y2="666.86" stroke="#000" stroke-width="2.2"/>
<rect x="468.55" y="661.15" width="5.50" height="5.30" fill="#fff" stroke="#000" stroke-width="1.3"/>
<rect x="477.25" y="662.55" width="5.50" height="5.30" fill="#fff" stroke="#000" stroke-width="1.3"/>
<rect x="482.55" y="662.55" width="5.50" height="5.30" fill="#fff" stroke="#000" stroke-width="1.3"/>
<rect x="472.95" y="666.05" width="5.50" height="5.30" fill="#fff" stroke="#000" stroke-width="1.3"/>
<rect x="486.05" y="665.55" width="5.50" height="5.30" fill="#fff" stroke="#000" stroke-width="1.3"/>
<rect x="477.25" y="669.95" width="5.50" height="5.30" fill="#fff" stroke="#000" stroke-width="1.3"/>
<rect x="482.55" y="669.95" width="5.50" height="5.30" fill="#fff" stroke="#000" stroke-width="1.3"/>
<rect x="472.45" y="672.05" width="5.50" height="5.30" fill="#fff" stroke="#000" stroke-width="1.3"/>
<line x1="514.45" y1="671.66" x2="514.45" y2="669.32" stroke="#000" stroke-width="2.0"/>
<line x1="507.75" y1="669.32" x2="521.15" y2="669.32" stroke="#000" stroke-width="2.2"/>
<polygon points="505.50,663.44 508.10,668.64 502.90,668.64" fill="#fff" stroke="#000" stroke-width="1.3"/>
<polygon points="509.90,662.24 512.50,667.44 507.30,667.44" fill="#fff" stroke="#000" stroke-width="1.3"/>
<polygon points="514.20,666.04 516.80,671.24 511.60,671.24" fill="#fff" stroke="#000" stroke-width="1.3"/>
<polygon points="518.60,667.54 521.20,672.74 516.00,672.74" fill="#fff" stroke="#000" stroke-width="1.3"/>
<polygon points="523.00,667.04 525.60,672.24 520.40,672.24" fill="#fff" stroke="#000" stroke-width="1.3"/>
<polygon points="509.90,669.64 512.50,674.84 507.30,674.84" fill="#fff" stroke="#000" stroke-width="1.3"/>
<polygon points="514.20,672.74 516.80,677.94 511.60,677.94" fill="#fff" stroke="#000" stroke-width="1.3"/>
<polygon points="509.90,674.84 512.50,680.04 507.30,680.04" fill="#fff" stroke="#000" stroke-width="1.3"/>
<polygon points="518.60,674.84 521.20,680.04 516.00,680.04" fill="#fff" stroke="#000" stroke-width="1.3"/>
<line x1="571.00" y1="671.35" x2="571.00" y2="668.55" stroke="#000" stroke-width="2.0"/>
<line x1="564.30" y1="668.55" x2="577.70" y2="668.55" stroke="#000" stroke-width="2.2"/>
<ellipse cx="566.70" cy="663.30" rx="2.8" ry="2.75" fill="#fff" stroke="#000" stroke-width="1.2"/>
<ellipse cx="575.40" cy="666.80" rx="2.8" ry="2.75" fill="#fff" stroke="#000" stroke-width="1.2"/>
<ellipse cx="562.60" cy="669.40" rx="2.8" ry="2.75" fill="#fff" stroke="#000" stroke-width="1.2"/>
<ellipse cx="566.70" cy="672.00" rx="2.8" ry="2.75" fill="#fff" stroke="#000" stroke-width="1.2"/>
<ellipse cx="579.60" cy="672.00" rx="2.8" ry="2.75" fill="#fff" stroke="#000" stroke-width="1.2"/>
<ellipse cx="570.90" cy="674.70" rx="2.8" ry="2.75" fill="#fff" stroke="#000" stroke-width="1.2"/>
<ellipse cx="562.60" cy="677.30" rx="2.8" ry="2.75" fill="#fff" stroke="#000" stroke-width="1.2"/>
<ellipse cx="579.60" cy="677.60" rx="2.8" ry="2.75" fill="#fff" stroke="#000" stroke-width="1.2"/>
<line x1="604.80" y1="670.89" x2="604.80" y2="668.55" stroke="#000" stroke-width="2.0"/>
<line x1="598.10" y1="668.55" x2="611.50" y2="668.55" stroke="#000" stroke-width="2.2"/>
<rect x="599.25" y="662.35" width="5.50" height="5.30" fill="#fff" stroke="#000" stroke-width="1.3"/>
<rect x="604.95" y="664.15" width="5.50" height="5.30" fill="#fff" stroke="#000" stroke-width="1.3"/>
<rect x="610.65" y="662.35" width="5.50" height="5.30" fill="#fff" stroke="#000" stroke-width="1.3"/>
<rect x="593.65" y="667.65" width="5.50" height="5.30" fill="#fff" stroke="#000" stroke-width="1.3"/>
<rect x="599.25" y="669.35" width="5.50" height="5.30" fill="#fff" stroke="#000" stroke-width="1.3"/>
<rect x="610.65" y="670.25" width="5.50" height="5.30" fill="#fff" stroke="#000" stroke-width="1.3"/>
<rect x="593.65" y="673.75" width="5.50" height="5.30" fill="#fff" stroke="#000" stroke-width="1.3"/>
<rect x="604.95" y="672.55" width="5.50" height="5.30" fill="#fff" stroke="#000" stroke-width="1.3"/>
<line x1="639.05" y1="670.58" x2="639.05" y2="668.24" stroke="#000" stroke-width="2.0"/>
<line x1="632.35" y1="668.24" x2="645.75" y2="668.24" stroke="#000" stroke-width="2.2"/>
<polygon points="630.00,662.94 632.60,668.14 627.40,668.14" fill="#fff" stroke="#000" stroke-width="1.3"/>
<polygon points="634.50,662.94 637.10,668.14 631.90,668.14" fill="#fff" stroke="#000" stroke-width="1.3"/>
<polygon points="638.80,662.04 641.40,667.24 636.20,667.24" fill="#fff" stroke="#000" stroke-width="1.3"/>
<polygon points="643.20,665.24 645.80,670.44 640.60,670.44" fill="#fff" stroke="#000" stroke-width="1.3"/>
<polygon points="647.60,667.34 650.20,672.54 645.00,672.54" fill="#fff" stroke="#000" stroke-width="1.3"/>
<polygon points="635.30,669.04 637.90,674.24 632.70,674.24" fill="#fff" stroke="#000" stroke-width="1.3"/>
<polygon points="639.70,670.84 642.30,676.04 637.10,676.04" fill="#fff" stroke="#000" stroke-width="1.3"/>
<polygon points="643.20,672.54 645.80,677.74 640.60,677.74" fill="#fff" stroke="#000" stroke-width="1.3"/>
<polygon points="634.50,675.24 637.10,680.44 631.90,680.44" fill="#fff" stroke="#000" stroke-width="1.3"/>
<line x1="423.80" y1="494.00" x2="423.80" y2="680.30" stroke="#000" stroke-width="2"/>
<line x1="422.80" y1="679.30" x2="661.60" y2="679.30" stroke="#000" stroke-width="2"/>
<line x1="416.20" y1="679.30" x2="423.80" y2="679.30" stroke="#000" stroke-width="2"/>
<text x="410.80" y="684.06" font-size="13.4" text-anchor="middle" font-weight="bold" textLength="7.81" lengthAdjust="spacingAndGlyphs">0</text>
<line x1="416.20" y1="648.58" x2="423.80" y2="648.58" stroke="#000" stroke-width="2"/>
<text x="406.94" y="653.34" font-size="13.4" text-anchor="middle" font-weight="bold" textLength="15.01" lengthAdjust="spacingAndGlyphs">20</text>
<line x1="416.20" y1="617.87" x2="423.80" y2="617.87" stroke="#000" stroke-width="2"/>
<text x="406.94" y="622.62" font-size="13.4" text-anchor="middle" font-weight="bold" textLength="15.01" lengthAdjust="spacingAndGlyphs">40</text>
<line x1="416.20" y1="587.15" x2="423.80" y2="587.15" stroke="#000" stroke-width="2"/>
<text x="406.94" y="591.91" font-size="13.4" text-anchor="middle" font-weight="bold" textLength="15.09" lengthAdjust="spacingAndGlyphs">60</text>
<line x1="416.20" y1="556.43" x2="423.80" y2="556.43" stroke="#000" stroke-width="2"/>
<text x="406.94" y="561.19" font-size="13.4" text-anchor="middle" font-weight="bold" textLength="15.01" lengthAdjust="spacingAndGlyphs">80</text>
<line x1="416.20" y1="525.72" x2="423.80" y2="525.72" stroke="#000" stroke-width="2"/>
<text x="403.28" y="530.47" font-size="13.4" text-anchor="middle" font-weight="bold" textLength="22.58" lengthAdjust="spacingAndGlyphs">100</text>
<line x1="416.20" y1="495.00" x2="423.80" y2="495.00" stroke="#000" stroke-width="2"/>
<text x="403.28" y="499.76" font-size="13.4" text-anchor="middle" font-weight="bold" textLength="22.58" lengthAdjust="spacingAndGlyphs">120</text>
<line x1="480.00" y1="679.30" x2="480.00" y2="685.50" stroke="#000" stroke-width="2"/>
<text x="477.20" y="698.50" font-size="13" text-anchor="middle" font-weight="bold" textLength="69.62" lengthAdjust="spacingAndGlyphs">Last Ext Day</text>
<line x1="604.70" y1="679.30" x2="604.70" y2="685.50" stroke="#000" stroke-width="2"/>
<text x="604.30" y="699.00" font-size="13" text-anchor="middle" font-weight="bold" textLength="85.43" lengthAdjust="spacingAndGlyphs">Cue Reinst Day</text>
<text x="374.80" y="587.10" font-size="14.4" text-anchor="middle" font-weight="bold" textLength="157.83" lengthAdjust="spacingAndGlyphs" transform="rotate(-90 374.80 587.10)">Inactive nosepokes (1 h)</text>
<rect x="94.40" y="915.40" width="23.60" height="15.60" fill="#dcdcdc"/>
<rect x="129.00" y="918.00" width="23.70" height="13.00" fill="#9dbbdc"/>
<rect x="164.00" y="918.00" width="24.20" height="13.00" fill="#b9b687"/>
<rect x="222.30" y="833.81" width="23.60" height="97.19" fill="#dcdcdc"/>
<rect x="257.30" y="877.42" width="23.10" height="53.58" fill="#9dbbdc"/>
<rect x="292.30" y="837.42" width="22.80" height="93.58" fill="#b9b687"/>
<line x1="106.20" y1="915.90" x2="106.20" y2="912.51" stroke="#000" stroke-width="2.0"/>
<line x1="99.50" y1="912.51" x2="112.90" y2="912.51" stroke="#000" stroke-width="2.2"/>
<ellipse cx="97.40" cy="905.20" rx="2.8" ry="2.55" fill="#fff" stroke="#000" stroke-width="1.2"/>
<ellipse cx="102.80" cy="906.70" rx="2.8" ry="2.55" fill="#fff" stroke="#000" stroke-width="1.2"/>
<ellipse cx="109.10" cy="904.70" rx="2.8" ry="2.55" fill="#fff" stroke="#000" stroke-width="1.2"/>
<ellipse cx="114.90" cy="907.50" rx="2.8" ry="2.55" fill="#fff" stroke="#000" stroke-width="1.2"/>
<ellipse cx="106.00" cy="913.80" rx="2.8" ry="2.55" fill="#fff" stroke="#000" stroke-width="1.2"/>
<ellipse cx="103.60" cy="923.10" rx="2.8" ry="2.55" fill="#fff" stroke="#000" stroke-width="1.2"/>
<ellipse cx="109.10" cy="922.30" rx="2.8" ry="2.55" fill="#fff" stroke="#000" stroke-width="1.2"/>
<ellipse cx="103.60" cy="928.60" rx="2.8" ry="2.55" fill="#fff" stroke="#000" stroke-width="1.2"/>
<ellipse cx="109.10" cy="927.80" rx="2.8" ry="2.55" fill="#fff" stroke="#000" stroke-width="1.2"/>
<line x1="140.85" y1="918.50" x2="140.85" y2="914.39" stroke="#000" stroke-width="2.0"/>
<line x1="134.15" y1="914.39" x2="147.55" y2="914.39" stroke="#000" stroke-width="2.2"/>
<rect x="138.20" y="900.50" width="5.80" height="5.20" fill="#fff" stroke="#000" stroke-width="1.3"/>
<rect x="133.50" y="906.80" width="5.80" height="5.20" fill="#fff" stroke="#000" stroke-width="1.3"/>
<rect x="142.10" y="908.00" width="5.80" height="5.20" fill="#fff" stroke="#000" stroke-width="1.3"/>
<rect x="129.30" y="918.20" width="5.80" height="5.20" fill="#fff" stroke="#000" stroke-width="1.3"/>
<rect x="137.90" y="918.20" width="5.80" height="5.20" fill="#fff" stroke="#000" stroke-width="1.3"/>
<rect x="146.80" y="919.70" width="5.80" height="5.20" fill="#fff" stroke="#000" stroke-width="1.3"/>
<rect x="133.50" y="926.80" width="5.80" height="5.20" fill="#fff" stroke="#000" stroke-width="1.3"/>
<rect x="142.10" y="926.80" width="5.80" height="5.20" fill="#fff" stroke="#000" stroke-width="1.3"/>
<line x1="176.10" y1="918.50" x2="176.10" y2="914.10" stroke="#000" stroke-width="2.0"/>
<line x1="169.40" y1="914.10" x2="182.80" y2="914.10" stroke="#000" stroke-width="2.2"/>
<polygon points="166.90,905.56 169.60,910.36 164.20,910.36" fill="#fff" stroke="#000" stroke-width="1.3"/>
<polygon points="172.40,907.06 175.10,911.86 169.70,911.86" fill="#fff" stroke="#000" stroke-width="1.3"/>
<polygon points="178.60,905.06 181.30,909.86 175.90,909.86" fill="#fff" stroke="#000" stroke-width="1.3"/>
<polygon points="184.60,914.16 187.30,918.96 181.90,918.96" fill="#fff" stroke="#000" stroke-width="1.3"/>
<polygon points="166.90,916.96 169.60,921.76 164.20,921.76" fill="#fff" stroke="#000" stroke-width="1.3"/>
<polygon points="178.30,918.06 181.00,922.86 175.60,922.86" fill="#fff" stroke="#000" stroke-width="1.3"/>
<polygon points="172.40,921.16 175.10,925.96 169.70,925.96" fill="#fff" stroke="#000" stroke-width="1.3"/>
<polygon points="184.60,921.16 187.30,925.96 181.90,925.96" fill="#fff" stroke="#000" stroke-width="1.3"/>
<polygon points="175.50,927.46 178.20,932.26 172.80,932.26" fill="#fff" stroke="#000" stroke-width="1.3"/>
<line x1="234.10" y1="834.31" x2="234.10" y2="821.82" stroke="#000" stroke-width="2.0"/>
<line x1="227.40" y1="821.82" x2="240.80" y2="821.82" stroke="#000" stroke-width="2.2"/>
<ellipse cx="233.70" cy="763.30" rx="2.8" ry="2.55" fill="#fff" stroke="#000" stroke-width="1.2"/>
<ellipse cx="233.70" cy="803.60" rx="2.8" ry="2.55" fill="#fff" stroke="#000" stroke-width="1.2"/>
<ellipse cx="233.70" cy="811.50" rx="2.8" ry="2.55" fill="#fff" stroke="#000" stroke-width="1.2"/>
<ellipse cx="224.90" cy="838.40" rx="2.8" ry="2.55" fill="#fff" stroke="#000" stroke-width="1.2"/>
<ellipse cx="233.70" cy="842.80" rx="2.8" ry="2.55" fill="#fff" stroke="#000" stroke-width="1.2"/>
<ellipse cx="242.40" cy="842.80" rx="2.8" ry="2.55" fill="#fff" stroke="#000" stroke-width="1.2"/>
<ellipse cx="233.70" cy="854.70" rx="2.8" ry="2.55" fill="#fff" stroke="#000" stroke-width="1.2"/>
<ellipse cx="233.70" cy="869.00" rx="2.8" ry="2.55" fill="#fff" stroke="#000" stroke-width="1.2"/>
<ellipse cx="233.70" cy="879.20" rx="2.8" ry="2.55" fill="#fff" stroke="#000" stroke-width="1.2"/>
<line x1="268.85" y1="877.92" x2="268.85" y2="867.60" stroke="#000" stroke-width="2.0"/>
<line x1="262.15" y1="867.60" x2="275.55" y2="867.60" stroke="#000" stroke-width="2.2"/>
<rect x="265.80" y="820.00" width="5.80" height="5.20" fill="#fff" stroke="#000" stroke-width="1.3"/>
<rect x="265.80" y="857.70" width="5.80" height="5.20" fill="#fff" stroke="#000" stroke-width="1.3"/>
<rect x="265.80" y="865.10" width="5.80" height="5.20" fill="#fff" stroke="#000" stroke-width="1.3"/>
<rect x="265.80" y="872.10" width="5.80" height="5.20" fill="#fff" stroke="#000" stroke-width="1.3"/>
<rect x="265.80" y="886.10" width="5.80" height="5.20" fill="#fff" stroke="#000" stroke-width="1.3"/>
<rect x="265.80" y="892.40" width="5.80" height="5.20" fill="#fff" stroke="#000" stroke-width="1.3"/>
<rect x="271.60" y="901.10" width="5.80" height="5.20" fill="#fff" stroke="#000" stroke-width="1.3"/>
<rect x="260.00" y="905.00" width="5.80" height="5.20" fill="#fff" stroke="#000" stroke-width="1.3"/>
<line x1="303.70" y1="837.92" x2="303.70" y2="827.16" stroke="#000" stroke-width="2.0"/>
<line x1="297.00" y1="827.16" x2="310.40" y2="827.16" stroke="#000" stroke-width="2.2"/>
<polygon points="303.70,775.46 306.40,780.26 301.00,780.26" fill="#fff" stroke="#000" stroke-width="1.3"/>
<polygon points="309.50,815.76 312.20,820.56 306.80,820.56" fill="#fff" stroke="#000" stroke-width="1.3"/>
<polygon points="298.00,819.86 300.70,824.66 295.30,824.66" fill="#fff" stroke="#000" stroke-width="1.3"/>
<polygon points="303.70,826.36 306.40,831.16 301.00,831.16" fill="#fff" stroke="#000" stroke-width="1.3"/>
<polygon points="298.00,834.76 300.70,839.56 295.30,839.56" fill="#fff" stroke="#000" stroke-width="1.3"/>
<polygon points="309.50,835.66 312.20,840.46 306.80,840.46" fill="#fff" stroke="#000" stroke-width="1.3"/>
<polygon points="303.70,861.96 306.40,866.76 301.00,866.76" fill="#fff" stroke="#000" stroke-width="1.3"/>
<polygon points="309.50,868.96 312.20,873.76 306.80,873.76" fill="#fff" stroke="#000" stroke-width="1.3"/>
<polygon points="298.00,873.66 300.70,878.46 295.30,878.46" fill="#fff" stroke="#000" stroke-width="1.3"/>
<line x1="83.10" y1="756.70" x2="83.10" y2="932.00" stroke="#000" stroke-width="2"/>
<line x1="82.10" y1="931.00" x2="326.50" y2="931.00" stroke="#000" stroke-width="2"/>
<line x1="75.20" y1="931.00" x2="83.10" y2="931.00" stroke="#000" stroke-width="2"/>
<text x="69.80" y="935.69" font-size="13.2" text-anchor="middle" font-weight="bold" textLength="8.98" lengthAdjust="spacingAndGlyphs">0</text>
<line x1="75.20" y1="902.12" x2="83.10" y2="902.12" stroke="#000" stroke-width="2"/>
<text x="66.08" y="906.80" font-size="13.2" text-anchor="middle" font-weight="bold" textLength="15.62" lengthAdjust="spacingAndGlyphs">20</text>
<line x1="75.20" y1="873.23" x2="83.10" y2="873.23" stroke="#000" stroke-width="2"/>
<text x="66.08" y="877.92" font-size="13.2" text-anchor="middle" font-weight="bold" textLength="15.76" lengthAdjust="spacingAndGlyphs">40</text>
<line x1="75.20" y1="844.35" x2="83.10" y2="844.35" stroke="#000" stroke-width="2"/>
<text x="66.08" y="849.04" font-size="13.2" text-anchor="middle" font-weight="bold" textLength="15.62" lengthAdjust="spacingAndGlyphs">60</text>
<line x1="75.20" y1="815.47" x2="83.10" y2="815.47" stroke="#000" stroke-width="2"/>
<text x="66.08" y="820.15" font-size="13.2" text-anchor="middle" font-weight="bold" textLength="15.62" lengthAdjust="spacingAndGlyphs">80</text>
<line x1="75.20" y1="786.58" x2="83.10" y2="786.58" stroke="#000" stroke-width="2"/>
<text x="61.96" y="791.27" font-size="13.2" text-anchor="middle" font-weight="bold" textLength="23.97" lengthAdjust="spacingAndGlyphs">100</text>
<line x1="75.20" y1="757.70" x2="83.10" y2="757.70" stroke="#000" stroke-width="2"/>
<text x="61.96" y="762.39" font-size="13.2" text-anchor="middle" font-weight="bold" textLength="23.97" lengthAdjust="spacingAndGlyphs">120</text>
<line x1="140.90" y1="931.00" x2="140.90" y2="938.20" stroke="#000" stroke-width="2"/>
<text x="140.90" y="949.00" font-size="11.8" text-anchor="middle" font-weight="bold" textLength="70.63" lengthAdjust="spacingAndGlyphs">Last Ext Day</text>
<line x1="268.70" y1="931.00" x2="268.70" y2="938.20" stroke="#000" stroke-width="2"/>
<text x="270.40" y="949.50" font-size="11.8" text-anchor="middle" font-weight="bold" textLength="91.23" lengthAdjust="spacingAndGlyphs">Drug Reinst Day</text>
<text x="40.00" y="844.40" font-size="14.4" text-anchor="middle" font-weight="bold" textLength="139.62" lengthAdjust="spacingAndGlyphs" transform="rotate(-90 40.00 844.40)">Active nosepokes (1 h)</text>
<line x1="233.30" y1="754.90" x2="269.60" y2="754.90" stroke="#000" stroke-width="2"/>
<text x="251.90" y="751.50" font-size="19" text-anchor="middle" font-weight="bold" textLength="16.95" lengthAdjust="spacingAndGlyphs">**</text>
<line x1="268.20" y1="766.20" x2="304.60" y2="766.20" stroke="#000" stroke-width="2"/>
<text x="283.75" y="757.00" font-size="14" text-anchor="middle" font-weight="bold" textLength="14.64" lengthAdjust="spacingAndGlyphs">##</text>
<rect x="91.5" y="745.5" width="24.50" height="8.00" fill="#dcdcdc"/>
<text x="153.10" y="754.00" font-size="12.5" text-anchor="middle" fill="#222" textLength="50.71" lengthAdjust="spacingAndGlyphs">NAC+HC</text>
<rect x="91.5" y="761.4" width="24.50" height="8.30" fill="#9dbbdc"/>
<text x="157.10" y="770.00" font-size="12.5" text-anchor="middle" fill="#222" textLength="56.64" lengthAdjust="spacingAndGlyphs">VEH+NAC</text>
<rect x="92.2" y="778.6" width="23.30" height="8.00" fill="#b9b687"/>
<text x="174.80" y="787.20" font-size="12.5" text-anchor="middle" fill="#222" textLength="94.07" lengthAdjust="spacingAndGlyphs">LY341495+NAC</text>
<text x="386.75" y="728.80" font-size="17.5" text-anchor="middle" textLength="263.40" lengthAdjust="spacingAndGlyphs">Drug-induced Reinstatement Test</text>
<rect x="435.80" y="918.06" width="23.50" height="15.04" fill="#dcdcdc"/>
<rect x="469.90" y="920.51" width="23.70" height="12.59" fill="#9dbbdc"/>
<rect x="504.20" y="921.13" width="22.90" height="11.97" fill="#b9b687"/>
<rect x="561.20" y="918.98" width="22.20" height="14.12" fill="#dcdcdc"/>
<rect x="594.60" y="923.74" width="23.30" height="9.36" fill="#9dbbdc"/>
<rect x="628.90" y="920.51" width="23.30" height="12.59" fill="#b9b687"/>
<line x1="447.55" y1="918.56" x2="447.55" y2="915.29" stroke="#000" stroke-width="2.0"/>
<line x1="440.85" y1="915.29" x2="454.25" y2="915.29" stroke="#000" stroke-width="2.2"/>
<ellipse cx="439.50" cy="913.10" rx="2.8" ry="2.75" fill="#fff" stroke="#000" stroke-width="1.2"/>
<ellipse cx="445.80" cy="911.40" rx="2.8" ry="2.75" fill="#fff" stroke="#000" stroke-width="1.2"/>
<ellipse cx="450.40" cy="914.60" rx="2.8" ry="2.75" fill="#fff" stroke="#000" stroke-width="1.2"/>
<ellipse cx="456.30" cy="913.10" rx="2.8" ry="2.75" fill="#fff" stroke="#000" stroke-width="1.2"/>
<ellipse cx="442.50" cy="914.60" rx="2.8" ry="2.75" fill="#fff" stroke="#000" stroke-width="1.2"/>
<ellipse cx="445.80" cy="920.40" rx="2.8" ry="2.75" fill="#fff" stroke="#000" stroke-width="1.2"/>
<ellipse cx="449.00" cy="927.00" rx="2.8" ry="2.75" fill="#fff" stroke="#000" stroke-width="1.2"/>
<ellipse cx="445.80" cy="930.70" rx="2.8" ry="2.75" fill="#fff" stroke="#000" stroke-width="1.2"/>
<line x1="481.75" y1="921.01" x2="481.75" y2="917.75" stroke="#000" stroke-width="2.0"/>
<line x1="475.05" y1="917.75" x2="488.45" y2="917.75" stroke="#000" stroke-width="2.2"/>
<rect x="478.65" y="908.75" width="5.50" height="5.30" fill="#fff" stroke="#000" stroke-width="1.3"/>
<rect x="469.55" y="915.15" width="5.50" height="5.30" fill="#fff" stroke="#000" stroke-width="1.3"/>
<rect x="474.25" y="915.15" width="5.50" height="5.30" fill="#fff" stroke="#000" stroke-width="1.3"/>
<rect x="483.45" y="915.15" width="5.50" height="5.30" fill="#fff" stroke="#000" stroke-width="1.3"/>
<rect x="487.85" y="915.15" width="5.50" height="5.30" fill="#fff" stroke="#000" stroke-width="1.3"/>
<rect x="478.65" y="917.75" width="5.50" height="5.30" fill="#fff" stroke="#000" stroke-width="1.3"/>
<rect x="474.25" y="923.35" width="5.50" height="5.30" fill="#fff" stroke="#000" stroke-width="1.3"/>
<rect x="483.45" y="921.45" width="5.50" height="5.30" fill="#fff" stroke="#000" stroke-width="1.3"/>
<line x1="515.65" y1="921.63" x2="515.65" y2="918.06" stroke="#000" stroke-width="2.0"/>
<line x1="508.95" y1="918.06" x2="522.35" y2="918.06" stroke="#000" stroke-width="2.2"/>
<polygon points="511.00,908.44 513.60,913.64 508.40,913.64" fill="#fff" stroke="#000" stroke-width="1.3"/>
<polygon points="515.80,908.44 518.40,913.64 513.20,913.64" fill="#fff" stroke="#000" stroke-width="1.3"/>
<polygon points="520.20,910.94 522.80,916.14 517.60,916.14" fill="#fff" stroke="#000" stroke-width="1.3"/>
<polygon points="506.60,918.64 509.20,923.84 504.00,923.84" fill="#fff" stroke="#000" stroke-width="1.3"/>
<polygon points="511.00,921.14 513.60,926.34 508.40,926.34" fill="#fff" stroke="#000" stroke-width="1.3"/>
<polygon points="515.80,919.64 518.40,924.84 513.20,924.84" fill="#fff" stroke="#000" stroke-width="1.3"/>
<polygon points="520.20,922.54 522.80,927.74 517.60,927.74" fill="#fff" stroke="#000" stroke-width="1.3"/>
<polygon points="524.60,921.84 527.20,927.04 522.00,927.04" fill="#fff" stroke="#000" stroke-width="1.3"/>
<polygon points="515.80,928.44 518.40,933.64 513.20,933.64" fill="#fff" stroke="#000" stroke-width="1.3"/>
<line x1="572.30" y1="919.48" x2="572.30" y2="915.91" stroke="#000" stroke-width="2.0"/>
<line x1="565.60" y1="915.91" x2="579.00" y2="915.91" stroke="#000" stroke-width="2.2"/>
<ellipse cx="563.70" cy="905.00" rx="2.8" ry="2.75" fill="#fff" stroke="#000" stroke-width="1.2"/>
<ellipse cx="571.80" cy="908.60" rx="2.8" ry="2.75" fill="#fff" stroke="#000" stroke-width="1.2"/>
<ellipse cx="581.30" cy="907.50" rx="2.8" ry="2.75" fill="#fff" stroke="#000" stroke-width="1.2"/>
<ellipse cx="563.70" cy="911.80" rx="2.8" ry="2.75" fill="#fff" stroke="#000" stroke-width="1.2"/>
<ellipse cx="581.30" cy="914.30" rx="2.8" ry="2.75" fill="#fff" stroke="#000" stroke-width="1.2"/>
<ellipse cx="581.30" cy="924.90" rx="2.8" ry="2.75" fill="#fff" stroke="#000" stroke-width="1.2"/>
<ellipse cx="571.80" cy="928.70" rx="2.8" ry="2.75" fill="#fff" stroke="#000" stroke-width="1.2"/>
<ellipse cx="563.70" cy="931.20" rx="2.8" ry="2.75" fill="#fff" stroke="#000" stroke-width="1.2"/>
<ellipse cx="581.30" cy="931.20" rx="2.8" ry="2.75" fill="#fff" stroke="#000" stroke-width="1.2"/>
<line x1="606.25" y1="924.24" x2="606.25" y2="921.43" stroke="#000" stroke-width="2.0"/>
<line x1="599.55" y1="921.43" x2="612.95" y2="921.43" stroke="#000" stroke-width="2.2"/>
<rect x="606.05" y="910.15" width="5.50" height="5.30" fill="#fff" stroke="#000" stroke-width="1.3"/>
<rect x="600.35" y="911.65" width="5.50" height="5.30" fill="#fff" stroke="#000" stroke-width="1.3"/>
<rect x="606.05" y="916.55" width="5.50" height="5.30" fill="#fff" stroke="#000" stroke-width="1.3"/>
<rect x="594.85" y="917.55" width="5.50" height="5.30" fill="#fff" stroke="#000" stroke-width="1.3"/>
<rect x="600.35" y="922.25" width="5.50" height="5.30" fill="#fff" stroke="#000" stroke-width="1.3"/>
<rect x="611.75" y="922.85" width="5.50" height="5.30" fill="#fff" stroke="#000" stroke-width="1.3"/>
<rect x="594.85" y="925.65" width="5.50" height="5.30" fill="#fff" stroke="#000" stroke-width="1.3"/>
<rect x="606.05" y="924.35" width="5.50" height="5.30" fill="#fff" stroke="#000" stroke-width="1.3"/>
<line x1="640.55" y1="921.01" x2="640.55" y2="917.75" stroke="#000" stroke-width="2.0"/>
<line x1="633.85" y1="917.75" x2="647.25" y2="917.75" stroke="#000" stroke-width="2.2"/>
<polygon points="631.40,908.84 634.00,914.04 628.80,914.04" fill="#fff" stroke="#000" stroke-width="1.3"/>
<polygon points="649.00,906.64 651.60,911.84 646.40,911.84" fill="#fff" stroke="#000" stroke-width="1.3"/>
<polygon points="640.50,913.04 643.10,918.24 637.90,918.24" fill="#fff" stroke="#000" stroke-width="1.3"/>
<polygon points="649.00,913.04 651.60,918.24 646.40,918.24" fill="#fff" stroke="#000" stroke-width="1.3"/>
<polygon points="631.40,918.34 634.00,923.54 628.80,923.54" fill="#fff" stroke="#000" stroke-width="1.3"/>
<polygon points="640.50,921.54 643.10,926.74 637.90,926.74" fill="#fff" stroke="#000" stroke-width="1.3"/>
<polygon points="649.00,920.44 651.60,925.64 646.40,925.64" fill="#fff" stroke="#000" stroke-width="1.3"/>
<polygon points="649.00,926.14 651.60,931.34 646.40,931.34" fill="#fff" stroke="#000" stroke-width="1.3"/>
<polygon points="631.40,928.94 634.00,934.14 628.80,934.14" fill="#fff" stroke="#000" stroke-width="1.3"/>
<line x1="425.10" y1="747.90" x2="425.10" y2="934.10" stroke="#000" stroke-width="2"/>
<line x1="424.10" y1="933.10" x2="662.80" y2="933.10" stroke="#000" stroke-width="2"/>
<line x1="417.20" y1="933.10" x2="425.10" y2="933.10" stroke="#000" stroke-width="2"/>
<text x="412.50" y="937.93" font-size="13.6" text-anchor="middle" font-weight="bold" textLength="8.45" lengthAdjust="spacingAndGlyphs">0</text>
<line x1="417.20" y1="902.40" x2="425.10" y2="902.40" stroke="#000" stroke-width="2"/>
<text x="409.03" y="907.23" font-size="13.6" text-anchor="middle" font-weight="bold" textLength="15.16" lengthAdjust="spacingAndGlyphs">20</text>
<line x1="417.20" y1="871.70" x2="425.10" y2="871.70" stroke="#000" stroke-width="2"/>
<text x="409.03" y="876.53" font-size="13.6" text-anchor="middle" font-weight="bold" textLength="14.94" lengthAdjust="spacingAndGlyphs">40</text>
<line x1="417.20" y1="841.00" x2="425.10" y2="841.00" stroke="#000" stroke-width="2"/>
<text x="409.03" y="845.83" font-size="13.6" text-anchor="middle" font-weight="bold" textLength="15.16" lengthAdjust="spacingAndGlyphs">60</text>
<line x1="417.20" y1="810.30" x2="425.10" y2="810.30" stroke="#000" stroke-width="2"/>
<text x="409.03" y="815.13" font-size="13.6" text-anchor="middle" font-weight="bold" textLength="15.16" lengthAdjust="spacingAndGlyphs">80</text>
<line x1="417.20" y1="779.60" x2="425.10" y2="779.60" stroke="#000" stroke-width="2"/>
<text x="405.13" y="784.43" font-size="13.6" text-anchor="middle" font-weight="bold" textLength="22.73" lengthAdjust="spacingAndGlyphs">100</text>
<line x1="417.20" y1="748.90" x2="425.10" y2="748.90" stroke="#000" stroke-width="2"/>
<text x="405.13" y="753.73" font-size="13.6" text-anchor="middle" font-weight="bold" textLength="22.73" lengthAdjust="spacingAndGlyphs">120</text>
<line x1="481.70" y1="933.10" x2="481.70" y2="940.60" stroke="#000" stroke-width="2"/>
<text x="481.50" y="952.60" font-size="11.8" text-anchor="middle" font-weight="bold" textLength="69.08" lengthAdjust="spacingAndGlyphs">Last Ext Day</text>
<line x1="606.00" y1="933.10" x2="606.00" y2="940.60" stroke="#000" stroke-width="2"/>
<text x="608.10" y="953.00" font-size="11.8" text-anchor="middle" font-weight="bold" textLength="88.23" lengthAdjust="spacingAndGlyphs">Drug Reinst Day</text>
<text x="375.90" y="840.80" font-size="14.4" text-anchor="middle" font-weight="bold" textLength="157.22" lengthAdjust="spacingAndGlyphs" transform="rotate(-90 375.90 840.80)">Inactive nosepokes (1 h)</text>
</svg></body></html>
